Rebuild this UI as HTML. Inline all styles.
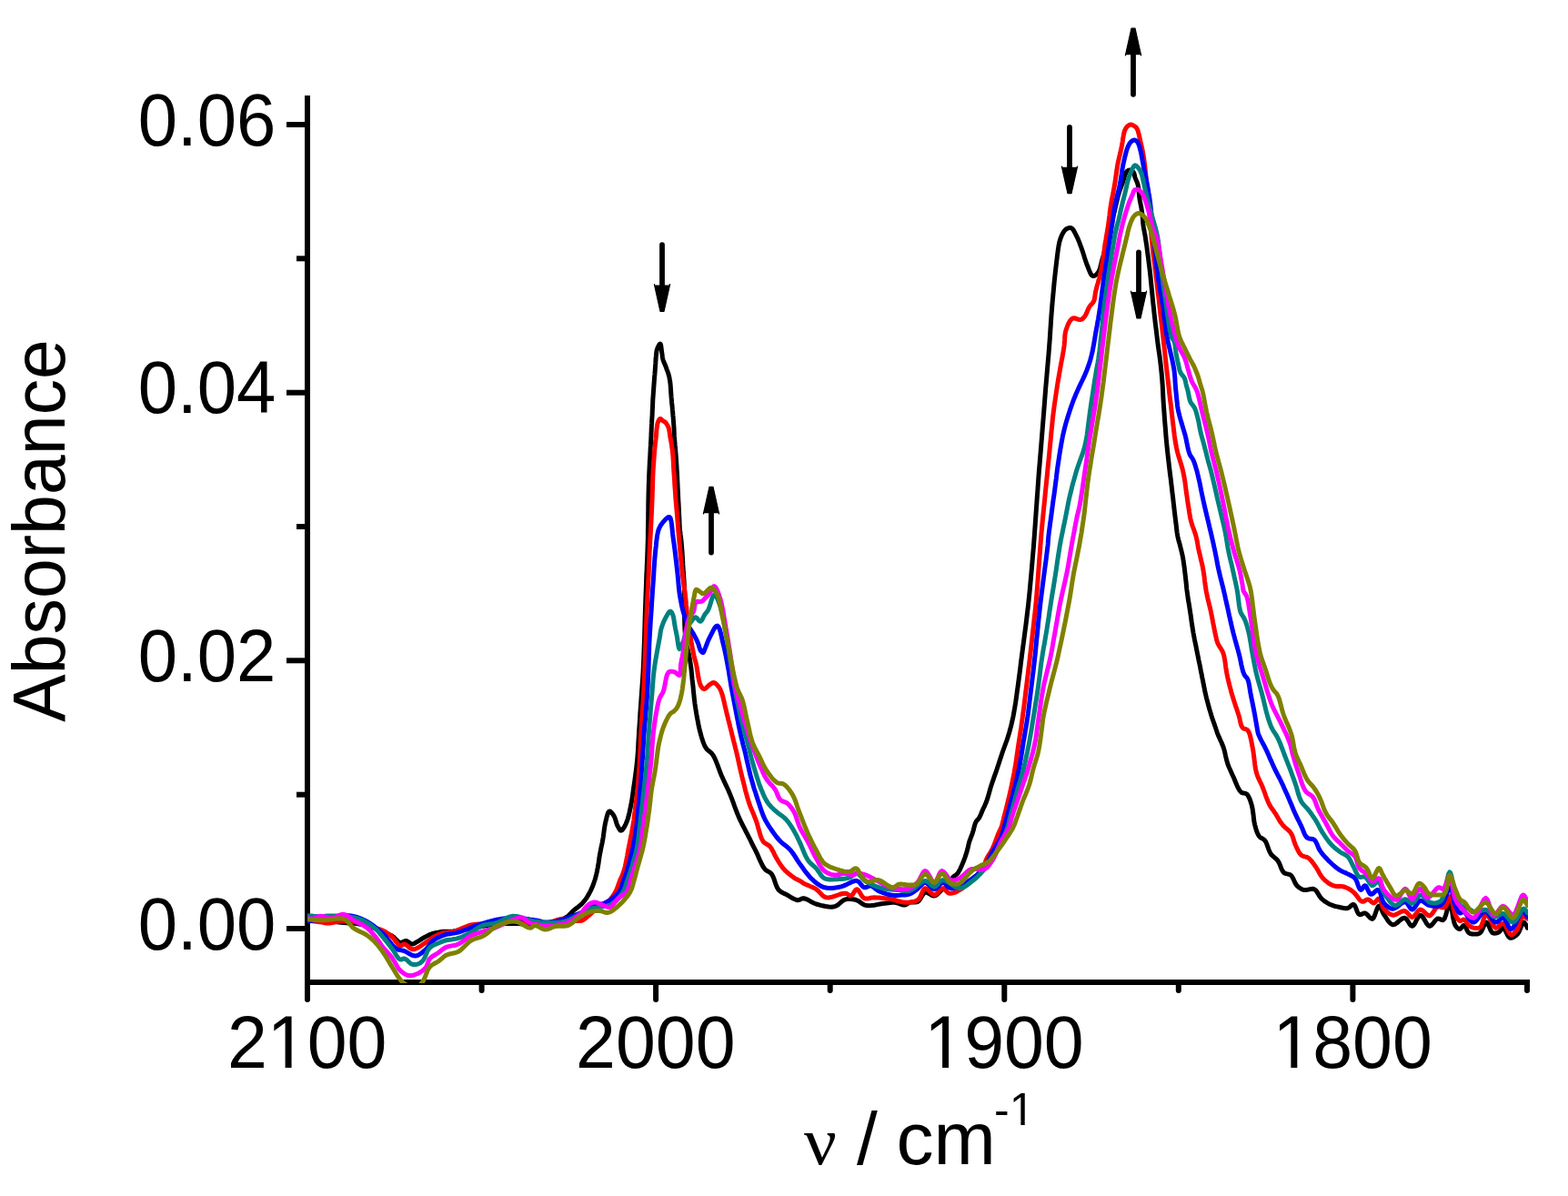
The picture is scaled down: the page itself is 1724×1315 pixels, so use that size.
<!DOCTYPE html>
<html><head><meta charset="utf-8"><title>Absorbance spectrum</title>
<style>
html,body{margin:0;padding:0;background:#fff;}
body{width:1724px;height:1315px;overflow:hidden;}
svg{display:block;}
.lbl{font-family:"Liberation Sans",Arial,sans-serif;font-size:80px;fill:#000;}
</style></head>
<body>
<svg width="1724" height="1315" viewBox="0 0 1724 1315">
<rect width="1724" height="1315" fill="#fff"/>
<defs><clipPath id="plot"><rect x="338" y="100" width="1342" height="981"/></clipPath></defs>
<g stroke="#000" stroke-width="6" fill="none" stroke-linecap="butt">
<line x1="338" y1="105" x2="338" y2="1083"/>
<line x1="335" y1="1080" x2="1682" y2="1080"/>
<line x1="315.0" y1="1021.0" x2="336.0" y2="1021.0"/>
<line x1="326.0" y1="873.7" x2="336.0" y2="873.7"/>
<line x1="315.0" y1="726.3" x2="336.0" y2="726.3"/>
<line x1="326.0" y1="579.0" x2="336.0" y2="579.0"/>
<line x1="315.0" y1="431.7" x2="336.0" y2="431.7"/>
<line x1="326.0" y1="284.3" x2="336.0" y2="284.3"/>
<line x1="315.0" y1="137.0" x2="336.0" y2="137.0"/>
<line x1="338.0" y1="1082" x2="338.0" y2="1099.0" stroke-linecap="round"/>
<line x1="529.6" y1="1082" x2="529.6" y2="1089.0" stroke-linecap="round"/>
<line x1="721.1" y1="1082" x2="721.1" y2="1099.0" stroke-linecap="round"/>
<line x1="912.7" y1="1082" x2="912.7" y2="1089.0" stroke-linecap="round"/>
<line x1="1104.3" y1="1082" x2="1104.3" y2="1099.0" stroke-linecap="round"/>
<line x1="1295.8" y1="1082" x2="1295.8" y2="1089.0" stroke-linecap="round"/>
<line x1="1487.4" y1="1082" x2="1487.4" y2="1099.0" stroke-linecap="round"/>
<line x1="1679.0" y1="1082" x2="1679.0" y2="1089.0" stroke-linecap="round"/>
</g>
<g clip-path="url(#plot)" fill="none" stroke-width="5.0" stroke-linejoin="round" stroke-linecap="round">
<path d="M338.0 1011.0 L339.1 1011.1 L342.2 1011.2 L346.4 1011.5 L351.2 1011.8 L356.0 1012.2 L360.0 1012.5 L363.1 1012.8 L366.2 1013.2 L369.1 1013.5 L372.1 1013.9 L375.0 1014.3 L378.0 1014.6 L380.9 1014.8 L383.7 1015.0 L386.5 1015.1 L389.4 1015.3 L392.2 1015.6 L395.0 1016.0 L397.9 1016.6 L400.9 1017.2 L403.8 1018.0 L406.7 1018.9 L409.5 1019.7 L412.0 1020.6 L413.8 1021.3 L415.4 1022.0 L416.9 1022.8 L418.4 1023.5 L419.9 1024.3 L421.5 1025.0 L423.1 1025.7 L424.7 1026.3 L426.3 1026.8 L427.9 1027.5 L429.5 1028.2 L431.0 1029.0 L432.6 1030.2 L434.1 1031.6 L435.6 1033.2 L437.1 1034.6 L438.5 1035.8 L440.0 1036.4 L441.1 1036.4 L442.2 1036.1 L443.3 1035.5 L444.4 1035.0 L445.5 1034.6 L446.6 1034.5 L447.7 1034.8 L448.8 1035.5 L449.8 1036.3 L450.9 1037.1 L452.0 1037.7 L453.0 1038.0 L453.9 1037.9 L454.9 1037.6 L455.8 1037.2 L456.7 1036.6 L457.6 1036.0 L458.6 1035.5 L459.8 1034.8 L461.0 1034.1 L462.2 1033.3 L463.5 1032.5 L464.7 1031.7 L466.0 1031.0 L467.3 1030.3 L468.6 1029.6 L469.8 1028.9 L471.2 1028.2 L472.5 1027.6 L474.0 1027.0 L475.8 1026.4 L477.8 1025.9 L479.8 1025.5 L481.9 1025.1 L484.0 1024.8 L486.0 1024.5 L488.0 1024.3 L489.9 1024.3 L491.8 1024.2 L493.7 1024.2 L495.8 1024.2 L498.0 1024.0 L501.3 1023.6 L504.8 1023.1 L508.5 1022.5 L512.3 1021.8 L516.2 1021.2 L520.0 1020.5 L524.1 1019.7 L528.3 1018.9 L532.5 1018.0 L536.7 1017.2 L540.9 1016.5 L545.0 1016.0 L548.8 1015.7 L552.6 1015.5 L556.3 1015.4 L560.0 1015.4 L563.6 1015.4 L567.0 1015.5 L569.8 1015.6 L572.5 1015.8 L575.1 1015.9 L577.7 1016.2 L580.3 1016.3 L583.0 1016.5 L585.9 1016.7 L588.8 1016.9 L591.7 1017.1 L594.6 1017.2 L597.4 1017.2 L600.0 1017.0 L601.9 1016.7 L603.7 1016.3 L605.4 1015.8 L607.1 1015.3 L608.8 1014.7 L610.6 1014.0 L612.7 1013.2 L614.9 1012.4 L617.1 1011.4 L619.3 1010.4 L621.3 1009.3 L623.2 1008.2 L624.6 1007.1 L625.9 1006.0 L627.0 1004.8 L628.2 1003.6 L629.3 1002.4 L630.6 1001.2 L632.1 999.9 L633.8 998.6 L635.4 997.4 L637.1 996.1 L638.7 994.7 L640.2 993.2 L641.6 991.6 L643.0 989.9 L644.3 988.1 L645.5 986.3 L646.6 984.4 L647.7 982.6 L648.6 980.9 L649.5 979.1 L650.3 977.4 L651.1 975.6 L651.8 973.8 L652.5 972.0 L653.1 970.2 L653.7 968.5 L654.3 966.7 L654.8 964.9 L655.2 963.1 L655.7 961.3 L656.1 959.5 L656.5 957.7 L656.8 956.0 L657.2 954.2 L657.5 952.4 L657.8 950.6 L658.1 948.9 L658.3 947.1 L658.6 945.4 L658.8 943.7 L659.1 941.9 L659.4 940.0 L659.9 937.5 L660.4 935.0 L660.9 932.3 L661.5 929.6 L662.1 926.8 L662.6 924.0 L663.2 920.6 L663.7 917.0 L664.2 913.2 L664.7 909.6 L665.3 906.1 L666.0 903.0 L666.6 900.7 L667.1 898.3 L667.8 896.0 L668.4 894.1 L669.2 892.7 L670.0 892.0 L670.8 892.1 L671.6 892.7 L672.5 893.6 L673.4 894.7 L674.2 895.8 L675.0 897.0 L675.8 898.6 L676.5 900.5 L677.1 902.5 L677.7 904.5 L678.3 906.4 L679.0 908.0 L679.6 909.1 L680.2 910.3 L680.8 911.4 L681.5 912.3 L682.1 913.0 L682.8 913.2 L683.7 912.9 L684.6 912.0 L685.5 910.7 L686.5 909.1 L687.4 907.5 L688.2 905.8 L689.2 903.3 L690.2 900.5 L691.0 897.5 L691.8 894.3 L692.5 891.1 L693.2 887.9 L693.9 884.6 L694.5 881.3 L695.0 878.0 L695.5 874.6 L696.0 871.1 L696.5 867.4 L697.2 862.7 L697.9 857.8 L698.6 852.6 L699.3 847.4 L699.9 842.2 L700.5 836.9 L701.0 831.3 L701.4 825.7 L701.7 819.9 L702.0 814.2 L702.4 808.4 L702.7 802.7 L703.1 797.0 L703.5 791.3 L703.8 785.5 L704.2 779.8 L704.6 774.1 L705.0 768.4 L705.4 762.8 L705.8 757.4 L706.2 751.9 L706.6 746.3 L707.0 740.5 L707.3 734.2 L707.7 724.8 L708.1 714.4 L708.5 703.5 L708.8 692.5 L709.1 682.1 L709.4 672.7 L709.6 666.4 L709.8 660.5 L710.0 654.9 L710.2 649.5 L710.4 644.0 L710.6 638.4 L710.8 632.7 L711.1 626.9 L711.3 621.1 L711.6 615.4 L711.8 609.7 L712.0 604.2 L712.1 599.2 L712.3 594.3 L712.4 589.5 L712.4 584.7 L712.5 579.9 L712.6 575.0 L712.7 570.0 L712.7 565.0 L712.8 560.0 L712.8 555.0 L712.9 550.1 L713.0 545.3 L713.1 541.0 L713.2 536.8 L713.3 532.6 L713.5 528.5 L713.6 524.4 L713.8 520.2 L714.0 515.9 L714.2 511.6 L714.4 507.3 L714.7 503.0 L714.9 498.9 L715.1 495.1 L715.2 492.3 L715.4 489.7 L715.5 487.1 L715.7 484.6 L715.8 482.3 L715.9 480.0 L716.0 478.3 L716.0 476.7 L716.1 475.2 L716.2 473.7 L716.2 472.1 L716.3 470.4 L716.4 467.9 L716.6 465.2 L716.7 462.3 L716.9 459.4 L717.1 456.5 L717.2 453.7 L717.3 450.9 L717.5 448.1 L717.6 445.3 L717.7 442.5 L717.8 439.7 L718.0 436.9 L718.2 434.1 L718.4 431.3 L718.6 428.5 L718.8 425.8 L719.0 423.0 L719.2 420.2 L719.4 417.4 L719.6 414.5 L719.9 411.7 L720.1 408.8 L720.3 406.1 L720.5 403.5 L720.6 401.4 L720.8 399.4 L720.9 397.5 L721.0 395.6 L721.1 393.8 L721.3 392.0 L721.4 390.6 L721.6 389.2 L721.7 387.8 L721.9 386.5 L722.1 385.2 L722.5 384.0 L723.0 382.8 L723.5 381.4 L724.2 380.1 L724.8 379.0 L725.4 378.2 L725.9 378.0 L726.3 378.5 L726.7 379.7 L726.9 381.3 L727.1 383.2 L727.4 385.1 L727.6 386.7 L727.8 388.1 L728.0 389.5 L728.2 390.9 L728.3 392.3 L728.6 393.7 L728.9 395.1 L729.3 396.5 L729.9 397.9 L730.4 399.3 L731.1 400.7 L731.6 402.1 L732.2 403.5 L732.7 404.9 L733.2 406.3 L733.7 407.6 L734.2 409.0 L734.7 410.4 L735.1 411.8 L735.5 413.2 L735.8 414.5 L736.1 415.8 L736.3 417.2 L736.6 418.6 L736.8 420.2 L737.1 422.6 L737.3 425.3 L737.5 428.2 L737.7 431.1 L737.9 434.0 L738.1 436.9 L738.4 439.7 L738.6 442.5 L738.9 445.3 L739.2 448.1 L739.4 450.9 L739.7 453.7 L739.9 456.5 L740.2 459.4 L740.4 462.3 L740.6 465.2 L740.8 467.9 L741.0 470.4 L741.1 472.1 L741.1 473.7 L741.2 475.2 L741.2 476.7 L741.3 478.3 L741.4 480.0 L741.6 482.3 L741.8 484.6 L742.0 487.1 L742.2 489.7 L742.5 492.3 L742.7 495.1 L743.0 498.9 L743.3 503.0 L743.6 507.3 L743.9 511.6 L744.1 515.9 L744.4 520.2 L744.6 524.4 L744.8 528.6 L745.0 532.7 L745.2 536.9 L745.4 541.1 L745.6 545.3 L745.8 549.6 L746.1 554.1 L746.3 558.6 L746.5 562.9 L746.7 566.9 L746.9 570.4 L747.0 572.2 L747.0 573.8 L747.1 575.3 L747.1 576.8 L747.2 578.3 L747.3 580.0 L747.5 582.6 L747.9 585.3 L748.2 588.1 L748.6 591.1 L749.0 594.2 L749.3 597.4 L749.6 601.7 L750.0 606.2 L750.3 611.0 L750.6 615.7 L750.8 620.4 L751.1 624.8 L751.3 628.3 L751.6 631.8 L751.8 635.1 L752.1 638.4 L752.2 641.7 L752.4 645.0 L752.5 648.3 L752.5 651.6 L752.6 654.9 L752.6 658.2 L752.6 661.6 L752.6 665.0 L752.6 668.8 L752.6 672.7 L752.6 676.6 L752.6 680.5 L752.7 684.4 L752.8 688.0 L752.9 691.0 L753.1 693.9 L753.3 696.7 L753.5 699.5 L753.8 702.3 L754.2 705.0 L754.7 707.6 L755.2 710.1 L755.8 712.7 L756.4 715.2 L757.0 717.6 L757.5 720.0 L757.9 722.0 L758.2 724.0 L758.6 725.9 L758.9 727.9 L759.2 729.9 L759.5 732.0 L759.9 734.8 L760.2 737.7 L760.5 740.8 L760.8 743.9 L761.1 747.1 L761.5 750.5 L762.0 754.8 L762.4 759.4 L762.9 764.1 L763.4 768.9 L764.0 773.8 L764.7 778.5 L765.5 783.4 L766.3 788.3 L767.3 793.3 L768.2 798.2 L769.3 802.8 L770.4 807.0 L771.2 809.9 L772.1 812.7 L772.9 815.4 L773.9 817.9 L774.9 820.2 L776.1 822.3 L777.2 823.8 L778.5 825.0 L779.8 826.0 L781.2 827.2 L782.5 828.4 L783.8 830.0 L785.5 833.0 L787.1 836.6 L788.7 840.6 L790.2 844.7 L791.7 848.8 L793.3 852.7 L794.9 856.2 L796.5 859.7 L798.1 863.1 L799.7 866.5 L801.3 870.0 L802.8 873.6 L804.4 877.6 L806.0 881.8 L807.5 886.1 L809.1 890.3 L810.7 894.5 L812.3 898.4 L813.8 901.7 L815.4 905.0 L817.0 908.1 L818.6 911.2 L820.2 914.3 L821.8 917.4 L823.4 920.6 L825.0 923.7 L826.5 926.9 L828.1 930.1 L829.7 933.2 L831.3 936.4 L832.9 939.7 L834.4 943.2 L835.9 946.7 L837.5 950.0 L839.1 953.0 L840.8 955.4 L842.0 956.6 L843.3 957.5 L844.7 958.2 L846.0 958.9 L847.2 959.8 L848.4 961.0 L849.8 963.4 L851.0 966.4 L852.1 969.7 L853.2 973.0 L854.5 975.9 L856.0 978.3 L857.4 979.6 L858.9 980.7 L860.5 981.6 L862.1 982.4 L863.8 983.1 L865.5 984.0 L867.4 985.1 L869.3 986.3 L871.3 987.5 L873.3 988.5 L875.2 989.3 L877.0 989.7 L878.2 989.6 L879.3 989.2 L880.3 988.7 L881.4 988.2 L882.5 987.8 L883.7 987.7 L885.7 988.2 L887.8 989.1 L890.1 990.4 L892.4 991.8 L894.9 993.0 L897.4 994.0 L900.6 994.9 L904.0 995.8 L907.6 996.5 L911.1 997.0 L914.5 997.2 L917.5 996.8 L919.7 995.9 L921.7 994.6 L923.6 992.9 L925.4 991.3 L927.3 989.9 L929.3 989.0 L931.2 988.6 L933.2 988.4 L935.3 988.5 L937.3 988.7 L939.3 989.0 L941.2 989.5 L943.0 990.3 L944.8 991.3 L946.5 992.6 L948.2 993.8 L950.1 994.8 L952.1 995.5 L954.9 995.8 L957.9 995.6 L961.1 995.2 L964.3 994.6 L967.5 994.0 L970.4 993.6 L972.7 993.3 L974.9 993.0 L977.0 992.7 L979.1 992.4 L981.1 992.3 L983.2 992.3 L985.3 992.6 L987.4 993.2 L989.5 993.9 L991.5 994.5 L993.3 995.0 L995.0 995.0 L996.0 994.7 L996.8 994.3 L997.5 993.8 L998.3 993.2 L999.1 992.7 L1000.0 992.3 L1001.4 992.1 L1002.9 992.0 L1004.5 992.1 L1006.1 992.0 L1007.7 991.8 L1009.1 991.3 L1010.6 990.0 L1011.9 988.1 L1013.2 986.0 L1014.4 983.9 L1015.8 982.2 L1017.3 981.3 L1018.9 981.3 L1020.5 982.0 L1022.3 983.0 L1024.0 984.1 L1025.8 984.8 L1027.4 985.0 L1029.0 984.4 L1030.6 983.3 L1032.1 981.8 L1033.6 980.2 L1035.0 978.8 L1036.5 977.7 L1037.6 977.2 L1038.8 976.8 L1039.9 976.5 L1041.0 976.2 L1042.1 975.7 L1043.0 975.0 L1044.0 973.7 L1044.7 972.0 L1045.3 970.1 L1046.0 968.2 L1046.7 966.4 L1047.5 964.9 L1048.3 964.0 L1049.2 963.3 L1050.2 962.6 L1051.1 962.0 L1052.0 961.2 L1052.9 960.3 L1053.9 958.8 L1054.9 957.1 L1055.8 955.3 L1056.7 953.3 L1057.6 951.3 L1058.4 949.4 L1059.3 947.3 L1060.1 945.2 L1060.9 943.0 L1061.6 940.9 L1062.3 938.7 L1063.0 936.6 L1063.5 934.7 L1064.0 932.9 L1064.4 931.0 L1064.8 929.2 L1065.2 927.4 L1065.7 925.6 L1066.3 923.9 L1066.9 922.3 L1067.5 920.6 L1068.2 919.0 L1068.8 917.3 L1069.4 915.6 L1070.0 913.6 L1070.6 911.5 L1071.1 909.3 L1071.7 907.2 L1072.3 905.3 L1073.0 903.7 L1073.5 902.9 L1074.1 902.2 L1074.7 901.6 L1075.3 900.9 L1075.8 900.3 L1076.4 899.5 L1077.1 898.2 L1077.8 896.8 L1078.5 895.2 L1079.2 893.6 L1079.8 892.0 L1080.5 890.4 L1081.2 888.9 L1081.9 887.5 L1082.6 886.1 L1083.2 884.6 L1083.9 883.0 L1084.6 881.3 L1085.5 878.6 L1086.4 875.7 L1087.3 872.6 L1088.2 869.3 L1089.1 866.1 L1090.1 863.0 L1091.1 860.0 L1092.2 856.9 L1093.2 853.9 L1094.3 850.9 L1095.4 847.8 L1096.4 844.8 L1097.4 841.8 L1098.4 838.7 L1099.4 835.6 L1100.4 832.6 L1101.4 829.5 L1102.4 826.5 L1103.5 823.5 L1104.6 820.5 L1105.7 817.5 L1106.8 814.5 L1107.8 811.4 L1108.8 808.3 L1109.8 805.0 L1110.7 801.7 L1111.6 798.4 L1112.4 795.0 L1113.2 791.4 L1114.0 787.7 L1114.9 782.8 L1115.8 777.6 L1116.7 772.2 L1117.5 766.6 L1118.2 761.1 L1119.0 755.7 L1119.7 750.4 L1120.4 745.1 L1121.1 739.8 L1121.8 734.4 L1122.4 729.1 L1123.1 723.8 L1123.8 718.5 L1124.5 713.2 L1125.2 707.9 L1125.9 702.5 L1126.6 697.2 L1127.3 691.9 L1128.0 686.7 L1128.6 681.6 L1129.2 676.6 L1129.8 671.4 L1130.5 665.9 L1131.1 660.0 L1132.0 651.2 L1132.9 641.6 L1133.8 631.6 L1134.7 621.2 L1135.6 610.6 L1136.5 600.0 L1137.4 587.9 L1138.3 575.3 L1139.2 562.4 L1140.1 549.6 L1141.0 537.4 L1141.8 526.0 L1142.4 517.8 L1143.1 510.0 L1143.7 502.5 L1144.3 495.2 L1144.9 487.9 L1145.5 480.4 L1146.1 472.8 L1146.7 465.4 L1147.3 457.9 L1147.9 450.3 L1148.5 442.6 L1149.1 434.8 L1149.8 425.9 L1150.6 416.7 L1151.4 407.4 L1152.2 398.1 L1153.0 388.9 L1153.7 380.0 L1154.3 372.0 L1154.8 364.2 L1155.3 356.5 L1155.8 348.9 L1156.4 341.3 L1157.0 333.7 L1157.7 326.1 L1158.4 318.4 L1159.1 310.7 L1159.9 303.2 L1160.7 296.0 L1161.5 289.3 L1162.1 284.3 L1162.7 279.4 L1163.3 274.7 L1164.0 270.3 L1164.8 266.2 L1165.9 262.6 L1166.7 260.4 L1167.6 258.3 L1168.6 256.4 L1169.6 254.7 L1170.7 253.3 L1171.9 252.2 L1172.8 251.6 L1173.8 251.1 L1174.8 250.7 L1175.9 250.5 L1176.9 250.5 L1177.8 250.7 L1178.9 251.4 L1180.0 252.6 L1180.9 254.2 L1181.9 256.0 L1182.8 257.8 L1183.7 259.6 L1184.8 261.8 L1185.8 264.2 L1186.8 266.6 L1187.7 269.2 L1188.7 271.8 L1189.6 274.4 L1190.6 277.3 L1191.6 280.4 L1192.5 283.5 L1193.5 286.5 L1194.5 289.5 L1195.6 292.2 L1196.5 294.5 L1197.4 296.9 L1198.4 299.2 L1199.3 301.2 L1200.4 302.7 L1201.5 303.5 L1202.4 303.5 L1203.5 303.2 L1204.5 302.5 L1205.6 301.7 L1206.5 300.7 L1207.4 299.6 L1208.4 297.8 L1209.3 295.6 L1210.0 293.2 L1210.6 290.5 L1211.3 287.7 L1212.0 285.0 L1213.0 281.6 L1214.0 278.1 L1215.0 274.4 L1216.0 270.6 L1217.0 266.8 L1218.0 263.0 L1219.0 258.9 L1220.0 254.8 L1221.0 250.6 L1222.0 246.4 L1223.0 242.2 L1224.0 238.0 L1225.0 233.7 L1226.0 229.4 L1227.0 225.0 L1228.0 220.8 L1229.0 216.7 L1230.0 213.0 L1230.8 210.4 L1231.7 207.9 L1232.5 205.6 L1233.4 203.3 L1234.2 201.1 L1235.0 199.0 L1235.6 197.1 L1236.1 195.2 L1236.6 193.4 L1237.2 191.7 L1237.8 190.2 L1238.5 189.0 L1239.0 188.4 L1239.6 188.0 L1240.2 187.6 L1240.8 187.3 L1241.4 187.1 L1242.0 187.0 L1242.7 187.1 L1243.4 187.2 L1244.1 187.6 L1244.8 188.0 L1245.5 188.5 L1246.0 189.0 L1246.5 189.8 L1246.9 190.7 L1247.2 191.8 L1247.4 192.9 L1247.7 194.1 L1248.0 195.2 L1248.5 196.4 L1249.0 197.6 L1249.5 198.8 L1250.1 200.0 L1250.6 201.4 L1251.0 202.8 L1251.5 205.0 L1251.8 207.5 L1252.1 210.1 L1252.3 212.7 L1252.6 215.4 L1252.9 218.0 L1253.3 220.5 L1253.8 223.1 L1254.3 225.6 L1254.8 228.1 L1255.2 230.7 L1255.6 233.2 L1255.9 235.8 L1256.2 238.3 L1256.4 240.9 L1256.6 243.5 L1256.8 246.0 L1257.1 248.4 L1257.4 250.4 L1257.7 252.1 L1258.1 253.9 L1258.4 255.7 L1258.8 257.7 L1259.2 260.0 L1259.9 264.9 L1260.8 270.7 L1261.6 277.0 L1262.5 283.6 L1263.3 290.2 L1264.1 296.5 L1264.8 302.6 L1265.4 308.7 L1266.0 314.7 L1266.6 320.8 L1267.2 326.9 L1267.8 333.0 L1268.5 339.1 L1269.1 345.1 L1269.8 351.1 L1270.5 357.2 L1271.3 363.3 L1272.0 369.5 L1272.8 376.1 L1273.7 382.8 L1274.7 389.6 L1275.6 396.4 L1276.4 403.2 L1277.1 410.0 L1277.7 416.8 L1278.2 423.7 L1278.6 430.5 L1278.9 437.4 L1279.3 444.2 L1279.8 451.1 L1280.3 458.0 L1280.8 464.8 L1281.4 471.7 L1281.9 478.5 L1282.5 485.4 L1283.2 492.2 L1283.9 499.1 L1284.7 505.9 L1285.5 512.8 L1286.3 519.6 L1287.2 526.5 L1288.0 533.3 L1288.8 540.4 L1289.7 547.7 L1290.5 555.1 L1291.3 562.1 L1292.1 568.7 L1292.8 574.4 L1293.2 577.5 L1293.5 580.3 L1293.8 582.9 L1294.1 585.3 L1294.5 587.7 L1294.9 590.0 L1295.3 591.8 L1295.7 593.5 L1296.1 595.1 L1296.6 596.7 L1297.1 598.3 L1297.5 600.0 L1298.0 602.0 L1298.5 604.0 L1299.0 606.0 L1299.5 608.1 L1300.0 610.3 L1300.5 612.7 L1301.1 616.4 L1301.7 620.5 L1302.3 624.9 L1302.8 629.2 L1303.3 633.4 L1303.7 637.1 L1304.0 639.4 L1304.2 641.6 L1304.4 643.6 L1304.6 645.6 L1304.8 647.7 L1305.1 650.0 L1305.6 653.4 L1306.1 657.1 L1306.7 661.0 L1307.4 665.0 L1308.0 668.9 L1308.6 672.8 L1309.2 676.6 L1309.7 680.4 L1310.2 684.2 L1310.8 688.0 L1311.4 691.8 L1312.0 695.6 L1312.7 699.4 L1313.4 703.2 L1314.2 707.0 L1315.0 710.8 L1315.7 714.6 L1316.5 718.4 L1317.3 722.2 L1318.0 726.0 L1318.8 729.8 L1319.6 733.6 L1320.3 737.4 L1321.1 741.2 L1321.8 745.0 L1322.6 748.8 L1323.3 752.6 L1324.1 756.4 L1324.8 760.2 L1325.7 764.0 L1326.6 767.9 L1327.7 771.8 L1328.7 775.8 L1329.8 779.7 L1330.9 783.4 L1331.9 786.8 L1332.7 789.3 L1333.5 791.6 L1334.3 793.9 L1335.1 796.0 L1335.8 798.1 L1336.5 800.0 L1336.9 801.3 L1337.3 802.5 L1337.7 803.6 L1338.0 804.7 L1338.4 805.9 L1338.9 807.2 L1339.8 809.4 L1340.9 811.7 L1342.0 814.2 L1343.2 816.8 L1344.3 819.5 L1345.3 822.1 L1346.1 824.9 L1346.8 827.7 L1347.4 830.6 L1348.1 833.5 L1348.8 836.3 L1349.6 839.1 L1350.5 841.7 L1351.5 844.1 L1352.6 846.6 L1353.7 849.0 L1354.8 851.5 L1356.0 854.0 L1357.3 857.0 L1358.6 860.2 L1360.0 863.5 L1361.4 866.5 L1362.9 869.1 L1364.5 871.0 L1365.5 871.6 L1366.6 872.0 L1367.8 872.1 L1368.9 872.3 L1369.9 872.6 L1370.9 873.2 L1372.1 874.6 L1373.1 876.5 L1374.1 878.6 L1374.9 881.0 L1375.7 883.4 L1376.4 885.9 L1377.1 889.1 L1377.6 892.6 L1378.1 896.2 L1378.5 899.9 L1378.9 903.4 L1379.6 906.6 L1380.2 909.0 L1380.9 911.4 L1381.6 913.7 L1382.4 915.8 L1383.3 917.7 L1384.4 919.4 L1385.3 920.4 L1386.4 921.2 L1387.6 921.8 L1388.7 922.4 L1389.8 923.2 L1390.8 924.2 L1392.0 926.1 L1393.0 928.5 L1393.9 931.2 L1394.9 933.9 L1395.9 936.4 L1397.1 938.6 L1398.3 940.1 L1399.7 941.4 L1401.1 942.6 L1402.5 943.8 L1403.9 945.1 L1405.1 946.6 L1406.3 948.6 L1407.3 950.9 L1408.2 953.3 L1409.1 955.6 L1410.2 957.7 L1411.5 959.3 L1412.7 960.1 L1414.1 960.6 L1415.5 960.9 L1416.9 961.3 L1418.3 961.7 L1419.5 962.5 L1420.7 964.0 L1421.8 965.9 L1422.7 968.0 L1423.7 970.1 L1424.7 972.1 L1425.9 973.7 L1427.1 974.8 L1428.3 975.8 L1429.6 976.7 L1431.0 977.5 L1432.4 978.1 L1433.9 978.5 L1435.6 978.6 L1437.5 978.3 L1439.5 977.9 L1441.5 977.5 L1443.3 977.3 L1445.0 977.7 L1446.6 978.8 L1447.9 980.4 L1449.1 982.4 L1450.3 984.5 L1451.6 986.4 L1453.0 988.1 L1454.5 989.4 L1456.0 990.6 L1457.6 991.7 L1459.2 992.7 L1460.9 993.7 L1462.6 994.5 L1464.4 995.2 L1466.3 995.9 L1468.2 996.5 L1470.1 996.9 L1472.0 997.3 L1473.8 997.7 L1475.2 998.0 L1476.6 998.3 L1478.0 998.5 L1479.3 998.7 L1480.6 998.7 L1481.8 998.5 L1483.0 998.0 L1484.1 997.1 L1485.2 996.1 L1486.2 995.2 L1487.2 994.6 L1488.2 994.5 L1489.4 995.5 L1490.4 997.4 L1491.4 999.9 L1492.3 1002.4 L1493.4 1004.4 L1494.6 1005.6 L1495.6 1005.7 L1496.6 1005.4 L1497.7 1004.9 L1498.7 1004.4 L1499.8 1004.0 L1500.9 1004.0 L1502.3 1004.7 L1503.6 1006.0 L1505.0 1007.6 L1506.4 1009.1 L1507.7 1010.1 L1508.9 1010.4 L1510.3 1009.1 L1511.5 1006.4 L1512.7 1003.0 L1513.9 999.7 L1515.0 997.1 L1516.1 996.1 L1517.0 996.6 L1517.9 997.8 L1518.8 999.6 L1519.7 1001.7 L1520.6 1003.8 L1521.7 1005.6 L1523.1 1007.7 L1524.6 1010.0 L1526.1 1012.4 L1527.8 1014.4 L1529.6 1016.0 L1531.4 1016.8 L1533.4 1016.4 L1535.6 1015.0 L1537.9 1013.0 L1540.2 1011.1 L1542.3 1009.6 L1544.3 1009.2 L1545.9 1010.1 L1547.3 1011.8 L1548.7 1014.0 L1550.0 1016.1 L1551.3 1017.7 L1552.7 1018.3 L1554.2 1017.4 L1555.7 1015.1 L1557.2 1012.2 L1558.7 1009.3 L1560.2 1007.1 L1561.8 1006.2 L1563.4 1007.1 L1565.0 1009.3 L1566.7 1012.1 L1568.3 1015.0 L1570.0 1017.3 L1571.7 1018.3 L1573.2 1017.8 L1574.7 1016.4 L1576.3 1014.5 L1577.8 1012.5 L1579.3 1010.9 L1580.8 1010.0 L1581.9 1010.0 L1582.9 1010.4 L1584.0 1010.9 L1585.0 1011.4 L1586.0 1011.7 L1586.9 1011.5 L1588.4 1009.6 L1589.7 1006.0 L1590.9 1001.7 L1592.0 997.5 L1593.1 994.4 L1594.1 993.2 L1595.1 994.7 L1596.0 998.4 L1596.8 1003.4 L1597.6 1008.8 L1598.6 1013.6 L1599.8 1017.0 L1600.6 1018.2 L1601.4 1019.3 L1602.2 1020.2 L1603.1 1020.9 L1604.0 1021.4 L1604.8 1021.6 L1605.6 1021.3 L1606.4 1020.5 L1607.2 1019.5 L1608.0 1018.5 L1608.8 1017.7 L1609.6 1017.5 L1610.5 1018.1 L1611.4 1019.4 L1612.3 1021.1 L1613.1 1023.0 L1614.1 1024.6 L1615.1 1025.7 L1615.9 1026.2 L1616.8 1026.6 L1617.7 1026.8 L1618.6 1027.0 L1619.5 1027.1 L1620.5 1027.1 L1621.6 1027.1 L1622.8 1027.1 L1624.0 1027.0 L1625.2 1026.7 L1626.3 1026.3 L1627.4 1025.7 L1628.7 1024.1 L1629.9 1021.8 L1631.0 1019.2 L1632.0 1016.7 L1633.1 1014.8 L1634.2 1014.1 L1635.3 1014.9 L1636.4 1016.8 L1637.5 1019.4 L1638.6 1022.1 L1639.8 1024.3 L1641.1 1025.7 L1642.2 1026.1 L1643.3 1026.2 L1644.5 1026.1 L1645.7 1025.8 L1646.9 1025.4 L1647.9 1025.0 L1648.8 1024.3 L1649.6 1023.3 L1650.4 1022.2 L1651.1 1021.2 L1651.9 1020.4 L1652.7 1020.2 L1653.9 1021.0 L1655.0 1023.0 L1656.2 1025.5 L1657.5 1028.1 L1658.8 1030.1 L1660.2 1031.2 L1661.5 1031.3 L1662.9 1030.9 L1664.3 1030.2 L1665.8 1029.3 L1667.2 1028.2 L1668.4 1027.1 L1669.8 1025.1 L1671.0 1022.5 L1672.2 1019.6 L1673.2 1016.9 L1674.3 1014.9 L1675.3 1014.1 L1676.1 1014.5 L1677.0 1015.6 L1677.9 1017.1 L1678.7 1018.6 L1679.2 1019.7 L1679.4 1020.2" stroke="#000000"/>
<path d="M338.0 1012.0 L338.6 1012.1 L340.2 1012.3 L342.5 1012.6 L345.2 1012.9 L347.8 1013.2 L350.0 1013.5 L351.8 1013.8 L353.7 1014.1 L355.4 1014.4 L357.3 1014.7 L359.1 1014.9 L361.0 1015.0 L363.2 1014.9 L365.5 1014.5 L367.8 1014.1 L370.1 1013.6 L372.5 1013.2 L375.0 1013.0 L377.9 1012.9 L381.0 1013.0 L384.1 1013.1 L387.2 1013.3 L390.2 1013.6 L393.0 1014.0 L395.2 1014.4 L397.3 1014.8 L399.3 1015.3 L401.2 1015.8 L403.1 1016.4 L405.0 1017.0 L406.6 1017.6 L408.1 1018.2 L409.6 1018.8 L411.1 1019.4 L412.6 1020.0 L414.0 1020.6 L415.3 1021.1 L416.5 1021.5 L417.8 1021.9 L419.0 1022.3 L420.2 1022.8 L421.5 1023.4 L423.1 1024.3 L424.7 1025.2 L426.3 1026.3 L427.9 1027.5 L429.5 1028.7 L431.0 1030.0 L432.6 1031.7 L434.2 1033.7 L435.7 1035.8 L437.2 1037.8 L438.6 1039.2 L440.0 1040.0 L440.8 1040.0 L441.6 1039.6 L442.3 1039.1 L443.1 1038.5 L443.8 1038.1 L444.7 1038.0 L446.1 1038.5 L447.5 1039.6 L449.0 1040.9 L450.6 1042.3 L452.3 1043.3 L454.0 1043.8 L456.2 1043.5 L458.6 1042.5 L461.0 1041.1 L463.5 1039.5 L465.8 1037.8 L468.0 1036.4 L469.6 1035.3 L471.2 1034.2 L472.6 1033.1 L474.0 1032.0 L475.5 1030.9 L477.0 1030.0 L478.5 1029.2 L480.1 1028.4 L481.6 1027.7 L483.2 1027.1 L484.8 1026.5 L486.5 1026.0 L488.3 1025.6 L490.1 1025.4 L492.0 1025.3 L493.9 1025.1 L495.9 1024.9 L498.0 1024.5 L501.0 1023.5 L504.3 1022.2 L507.7 1020.7 L511.2 1019.3 L514.6 1018.0 L518.0 1017.0 L521.0 1016.5 L523.9 1016.2 L526.9 1016.1 L529.8 1016.0 L532.9 1015.9 L536.0 1015.7 L539.8 1015.3 L543.8 1014.7 L547.9 1014.2 L552.0 1013.7 L556.1 1013.2 L560.0 1013.0 L563.4 1013.0 L566.8 1013.1 L570.1 1013.3 L573.4 1013.5 L576.7 1013.8 L580.0 1014.0 L583.3 1014.2 L586.7 1014.6 L590.0 1014.9 L593.4 1015.1 L596.7 1015.2 L600.0 1015.0 L603.4 1014.4 L606.8 1013.5 L610.2 1012.3 L613.6 1011.2 L616.9 1010.4 L620.0 1010.0 L622.5 1010.1 L625.1 1010.5 L627.5 1011.1 L629.8 1011.7 L632.0 1012.2 L634.0 1012.5 L635.1 1012.6 L636.2 1012.6 L637.1 1012.6 L638.1 1012.5 L639.0 1012.3 L640.0 1012.0 L641.3 1011.4 L642.6 1010.5 L643.9 1009.5 L645.3 1008.3 L646.6 1007.2 L648.0 1006.0 L649.6 1004.6 L651.3 1003.0 L652.9 1001.4 L654.6 999.8 L656.3 998.3 L658.0 997.0 L659.5 996.0 L661.1 995.1 L662.7 994.2 L664.3 993.4 L665.7 992.7 L666.9 992.0 L667.5 991.7 L668.0 991.4 L668.5 991.1 L669.0 990.8 L669.5 990.5 L670.0 990.0 L671.0 988.9 L672.2 987.5 L673.3 986.0 L674.5 984.3 L675.6 982.5 L676.6 980.8 L677.6 978.9 L678.4 976.9 L679.2 974.8 L680.0 972.7 L680.7 970.6 L681.5 968.5 L682.3 966.5 L683.1 964.7 L684.0 962.8 L684.8 960.8 L685.6 958.8 L686.3 956.5 L687.2 953.0 L688.1 949.1 L688.9 944.9 L689.7 940.6 L690.4 936.3 L691.2 932.2 L692.0 928.2 L692.8 924.2 L693.6 920.2 L694.4 916.3 L695.1 912.4 L695.8 908.5 L696.4 905.0 L696.9 901.5 L697.3 898.1 L697.7 894.7 L698.2 891.3 L698.6 887.9 L699.0 884.5 L699.4 881.2 L699.9 877.9 L700.2 874.5 L700.6 871.1 L701.0 867.4 L701.4 862.7 L701.8 857.7 L702.2 852.6 L702.6 847.4 L703.0 842.2 L703.3 836.9 L703.6 831.3 L703.9 825.6 L704.2 819.9 L704.4 814.2 L704.7 808.4 L705.0 802.7 L705.4 797.1 L705.7 791.6 L706.1 786.2 L706.5 780.6 L706.9 774.7 L707.3 768.4 L707.8 759.0 L708.2 748.6 L708.7 737.6 L709.1 726.7 L709.5 716.3 L709.9 706.9 L710.1 700.6 L710.3 694.8 L710.5 689.2 L710.7 683.7 L710.9 678.3 L711.1 672.7 L711.4 667.0 L711.6 661.3 L711.9 655.5 L712.2 649.8 L712.5 644.1 L712.8 638.4 L713.1 632.7 L713.3 626.9 L713.5 621.1 L713.8 615.4 L714.0 609.7 L714.3 604.2 L714.6 599.2 L714.8 594.3 L715.1 589.5 L715.4 584.7 L715.6 579.9 L715.9 575.0 L716.1 570.0 L716.4 565.0 L716.6 560.0 L716.8 555.0 L717.0 550.1 L717.2 545.3 L717.3 541.0 L717.5 536.8 L717.6 532.6 L717.7 528.5 L717.8 524.4 L718.0 520.2 L718.2 515.9 L718.5 511.6 L718.8 507.3 L719.1 503.0 L719.4 498.9 L719.7 495.1 L720.0 492.3 L720.2 489.7 L720.5 487.1 L720.8 484.6 L721.1 482.3 L721.3 480.0 L721.5 478.3 L721.6 476.6 L721.7 474.9 L721.9 473.4 L722.0 471.9 L722.2 470.4 L722.4 469.2 L722.5 468.1 L722.7 467.0 L722.9 465.9 L723.2 464.9 L723.5 464.0 L723.8 463.2 L724.2 462.5 L724.6 461.7 L725.0 461.1 L725.5 460.6 L725.9 460.4 L726.3 460.5 L726.7 460.7 L727.1 461.2 L727.6 461.6 L728.0 462.1 L728.5 462.5 L729.0 462.8 L729.6 463.1 L730.2 463.4 L730.7 463.8 L731.3 464.1 L731.8 464.6 L732.4 465.3 L733.0 466.2 L733.6 467.2 L734.2 468.2 L734.7 469.3 L735.1 470.4 L735.5 471.8 L735.8 473.3 L736.1 474.9 L736.3 476.5 L736.5 478.2 L736.8 480.0 L737.2 482.3 L737.6 484.6 L738.1 487.1 L738.5 489.6 L738.9 492.3 L739.3 495.1 L739.7 498.9 L740.0 503.0 L740.3 507.2 L740.5 511.6 L740.7 515.9 L741.0 520.2 L741.3 524.4 L741.6 528.6 L741.8 532.8 L742.1 536.9 L742.4 541.1 L742.7 545.3 L743.0 549.6 L743.4 554.1 L743.8 558.6 L744.2 562.9 L744.5 566.9 L744.8 570.4 L744.9 572.2 L745.1 573.7 L745.2 575.0 L745.3 576.4 L745.4 578.0 L745.6 580.0 L746.1 586.3 L746.8 594.5 L747.7 603.8 L748.5 613.3 L749.4 622.3 L750.2 630.0 L750.7 634.3 L751.3 638.3 L751.8 642.0 L752.3 645.5 L752.8 649.1 L753.3 652.8 L753.7 656.7 L754.1 660.6 L754.4 664.5 L754.8 668.3 L755.1 672.1 L755.5 675.6 L755.9 678.3 L756.2 680.9 L756.6 683.4 L757.0 685.8 L757.4 688.3 L757.8 690.8 L758.2 693.3 L758.5 695.9 L758.9 698.4 L759.3 700.9 L759.7 703.5 L760.1 706.0 L760.6 708.6 L761.0 711.3 L761.6 713.9 L762.1 716.5 L762.6 719.0 L763.1 721.3 L763.5 722.8 L763.8 724.2 L764.2 725.5 L764.6 726.9 L765.0 728.3 L765.4 730.0 L766.1 733.5 L766.8 737.9 L767.5 742.5 L768.4 747.0 L769.3 750.9 L770.4 753.8 L771.0 754.8 L771.6 755.7 L772.2 756.4 L772.8 757.0 L773.5 757.4 L774.2 757.6 L775.1 757.4 L776.0 756.7 L777.0 755.8 L778.0 754.8 L779.0 753.8 L780.0 753.0 L780.8 752.4 L781.7 751.8 L782.5 751.3 L783.4 750.8 L784.2 750.5 L785.0 750.5 L785.9 750.8 L786.8 751.4 L787.6 752.2 L788.5 753.1 L789.3 754.1 L790.0 755.0 L790.7 755.9 L791.2 756.8 L791.8 757.8 L792.3 758.9 L792.8 760.1 L793.3 761.4 L794.3 764.4 L795.2 767.9 L796.2 771.9 L797.1 776.1 L798.1 780.2 L799.0 784.2 L800.0 788.0 L800.9 791.8 L801.9 795.6 L802.8 799.4 L803.8 803.2 L804.7 807.0 L805.7 810.8 L806.6 814.6 L807.6 818.4 L808.5 822.2 L809.5 826.0 L810.4 829.9 L811.3 833.9 L812.2 838.0 L813.1 842.1 L814.0 846.2 L815.0 850.4 L816.0 854.6 L817.2 859.3 L818.4 864.2 L819.6 869.2 L821.0 874.1 L822.3 878.8 L823.7 883.2 L824.9 886.6 L826.2 889.8 L827.5 892.8 L828.8 895.9 L830.0 899.0 L831.3 902.2 L832.6 906.1 L833.7 910.3 L834.9 914.5 L836.1 918.6 L837.4 922.1 L839.0 925.0 L840.1 926.3 L841.4 927.2 L842.7 928.0 L844.0 928.7 L845.3 929.6 L846.5 930.7 L847.9 932.5 L849.1 934.7 L850.4 937.0 L851.5 939.4 L852.7 941.8 L854.0 944.0 L855.2 946.0 L856.4 948.0 L857.6 949.9 L858.9 951.8 L860.2 953.6 L861.7 955.4 L863.4 957.2 L865.3 959.0 L867.3 960.7 L869.3 962.3 L871.2 963.7 L873.0 965.0 L874.3 965.8 L875.5 966.5 L876.7 967.1 L877.9 967.7 L879.0 968.2 L880.0 968.8 L880.7 969.2 L881.2 969.6 L881.8 970.0 L882.3 970.4 L882.9 970.8 L883.7 971.3 L885.5 972.2 L887.7 973.1 L890.1 974.2 L892.7 975.3 L895.2 976.4 L897.4 977.7 L899.3 979.2 L901.0 980.9 L902.7 982.8 L904.3 984.5 L906.2 985.9 L908.3 986.8 L911.5 986.9 L915.1 986.1 L919.1 984.8 L922.9 983.5 L926.4 982.5 L929.3 982.2 L930.6 982.5 L931.8 983.1 L932.8 983.9 L933.8 984.5 L934.7 985.0 L935.7 985.0 L936.8 984.3 L937.9 982.9 L938.9 981.1 L940.0 979.5 L941.0 978.2 L942.1 977.7 L943.4 978.4 L944.6 980.0 L945.9 982.2 L947.2 984.5 L948.7 986.5 L950.3 987.7 L951.9 988.1 L953.6 988.0 L955.4 987.7 L957.3 987.3 L959.3 986.9 L961.3 986.8 L964.1 986.9 L967.1 987.1 L970.2 987.4 L973.3 987.7 L976.5 988.1 L979.5 988.6 L982.3 989.2 L985.1 990.0 L987.9 990.8 L990.7 991.5 L993.4 992.1 L996.0 992.3 L998.3 992.3 L1000.7 992.1 L1003.0 991.8 L1005.2 991.3 L1007.2 990.5 L1009.1 989.5 L1010.8 987.7 L1012.2 985.2 L1013.4 982.4 L1014.6 979.7 L1015.8 977.7 L1017.3 976.7 L1018.8 977.1 L1020.5 978.4 L1022.2 980.2 L1024.0 982.0 L1025.7 983.4 L1027.4 984.0 L1029.0 983.4 L1030.5 982.1 L1032.0 980.3 L1033.6 978.6 L1035.0 977.3 L1036.5 976.7 L1037.7 977.1 L1038.9 978.0 L1040.0 979.3 L1041.2 980.6 L1042.4 981.6 L1043.8 982.2 L1045.7 982.2 L1047.8 981.8 L1050.1 981.1 L1052.3 980.1 L1054.5 978.9 L1056.6 977.7 L1058.7 976.2 L1060.7 974.5 L1062.6 972.5 L1064.6 970.5 L1066.5 968.5 L1068.4 966.7 L1070.3 965.2 L1072.3 963.7 L1074.3 962.3 L1076.1 960.9 L1077.9 959.4 L1079.4 957.6 L1080.6 955.6 L1081.6 953.3 L1082.4 950.9 L1083.2 948.5 L1084.0 946.1 L1084.9 943.9 L1085.9 942.0 L1087.0 940.2 L1088.1 938.5 L1089.2 936.7 L1090.3 934.9 L1091.3 932.9 L1092.5 930.3 L1093.6 927.4 L1094.7 924.5 L1095.8 921.5 L1096.8 918.8 L1097.7 916.5 L1098.3 915.3 L1098.8 914.2 L1099.3 913.2 L1099.8 912.2 L1100.3 911.2 L1100.8 910.0 L1101.3 908.5 L1101.8 906.9 L1102.2 905.2 L1102.6 903.5 L1103.1 901.6 L1103.6 899.5 L1104.6 895.7 L1105.7 891.3 L1106.9 886.6 L1108.1 881.7 L1109.3 876.8 L1110.4 872.1 L1111.4 867.6 L1112.4 863.0 L1113.3 858.5 L1114.2 853.9 L1115.1 849.4 L1115.9 844.8 L1116.7 840.2 L1117.4 835.7 L1118.0 831.1 L1118.7 826.5 L1119.3 822.0 L1120.0 817.4 L1120.7 812.9 L1121.4 808.4 L1122.1 803.9 L1122.8 799.4 L1123.4 794.7 L1124.1 790.0 L1124.8 784.5 L1125.6 778.8 L1126.3 773.0 L1127.0 767.2 L1127.7 761.4 L1128.4 755.7 L1129.1 750.3 L1129.7 745.0 L1130.4 739.7 L1131.0 734.4 L1131.7 729.1 L1132.3 723.8 L1132.9 718.5 L1133.5 713.2 L1134.1 707.9 L1134.7 702.5 L1135.3 697.2 L1135.9 691.9 L1136.5 686.7 L1137.0 681.6 L1137.6 676.6 L1138.2 671.4 L1138.7 665.9 L1139.3 660.0 L1140.1 650.7 L1140.9 640.2 L1141.7 629.1 L1142.5 618.2 L1143.3 608.3 L1143.9 600.0 L1144.2 596.3 L1144.5 593.0 L1144.7 590.1 L1144.9 587.3 L1145.2 584.2 L1145.5 580.8 L1146.0 575.4 L1146.6 569.6 L1147.2 563.5 L1147.8 557.2 L1148.5 550.8 L1149.1 544.3 L1149.8 537.0 L1150.6 529.5 L1151.4 521.8 L1152.1 514.1 L1152.9 506.4 L1153.7 498.7 L1154.4 491.0 L1155.2 483.3 L1155.9 475.5 L1156.7 467.8 L1157.4 460.3 L1158.3 453.0 L1159.1 446.7 L1160.0 440.5 L1160.9 434.5 L1161.8 428.5 L1162.7 422.5 L1163.7 416.5 L1164.8 410.3 L1165.9 403.8 L1167.1 397.4 L1168.3 391.1 L1169.3 385.3 L1170.1 380.0 L1170.4 376.8 L1170.6 373.9 L1170.7 371.1 L1170.9 368.4 L1171.3 365.8 L1171.9 363.3 L1172.8 360.7 L1173.8 358.0 L1175.0 355.4 L1176.3 353.1 L1177.7 351.2 L1179.3 350.0 L1180.7 349.7 L1182.2 350.0 L1183.8 350.5 L1185.3 351.1 L1186.8 351.5 L1188.1 351.5 L1188.9 351.2 L1189.7 350.9 L1190.4 350.4 L1191.0 349.8 L1191.7 349.1 L1192.3 348.4 L1193.3 346.9 L1194.3 345.0 L1195.2 342.9 L1196.1 340.8 L1197.0 338.7 L1198.0 337.0 L1198.8 335.9 L1199.6 335.0 L1200.4 334.2 L1201.2 333.3 L1201.9 332.4 L1202.5 331.3 L1203.1 329.7 L1203.5 327.9 L1203.8 326.0 L1204.1 324.0 L1204.4 321.9 L1204.8 319.8 L1205.5 317.1 L1206.2 314.3 L1207.1 311.5 L1207.9 308.5 L1208.7 305.6 L1209.4 302.7 L1210.1 299.8 L1210.7 297.0 L1211.3 294.1 L1211.8 291.2 L1212.3 288.4 L1212.8 285.6 L1213.2 283.2 L1213.5 280.8 L1213.7 278.5 L1214.0 276.2 L1214.3 273.8 L1214.6 271.2 L1215.1 267.7 L1215.8 264.0 L1216.4 260.1 L1217.1 256.2 L1217.8 252.3 L1218.4 248.4 L1218.9 244.6 L1219.4 240.8 L1219.9 237.0 L1220.3 233.2 L1220.8 229.4 L1221.4 225.6 L1222.0 221.8 L1222.7 218.0 L1223.5 214.2 L1224.2 210.4 L1224.9 206.6 L1225.6 202.8 L1226.2 199.0 L1226.7 195.1 L1227.3 191.2 L1227.8 187.4 L1228.4 183.6 L1229.0 180.0 L1229.6 177.0 L1230.3 174.0 L1231.0 171.2 L1231.7 168.4 L1232.3 165.5 L1233.0 162.6 L1233.6 159.3 L1234.2 155.8 L1234.7 152.2 L1235.3 148.9 L1235.9 145.8 L1236.7 143.4 L1237.2 142.3 L1237.7 141.3 L1238.2 140.5 L1238.8 139.7 L1239.4 139.1 L1240.0 138.5 L1240.5 138.1 L1241.0 137.8 L1241.5 137.5 L1242.0 137.2 L1242.6 137.1 L1243.1 137.0 L1243.7 137.0 L1244.4 137.2 L1245.1 137.5 L1245.7 137.8 L1246.4 138.1 L1247.0 138.5 L1247.6 138.9 L1248.1 139.2 L1248.6 139.6 L1249.1 140.1 L1249.5 140.6 L1250.0 141.3 L1250.9 143.2 L1251.6 145.6 L1252.4 148.4 L1253.0 151.4 L1253.7 154.5 L1254.3 157.3 L1254.9 159.9 L1255.5 162.3 L1256.0 164.8 L1256.5 167.3 L1257.0 170.1 L1257.5 173.2 L1258.3 178.9 L1259.1 185.4 L1259.8 192.4 L1260.5 199.8 L1261.3 207.4 L1262.0 215.0 L1262.9 224.3 L1263.8 234.3 L1264.6 244.5 L1265.5 254.6 L1266.4 264.0 L1267.2 272.2 L1267.7 276.8 L1268.2 280.9 L1268.7 284.7 L1269.2 288.4 L1269.7 292.3 L1270.2 296.5 L1270.9 302.2 L1271.6 308.1 L1272.3 314.3 L1273.0 320.6 L1273.8 326.8 L1274.5 333.0 L1275.2 339.1 L1275.9 345.1 L1276.6 351.1 L1277.3 357.2 L1278.0 363.3 L1278.7 369.5 L1279.4 376.1 L1280.2 382.8 L1280.9 389.6 L1281.7 396.4 L1282.4 403.2 L1283.2 410.0 L1284.0 416.8 L1284.8 423.7 L1285.5 430.5 L1286.3 437.4 L1287.2 444.2 L1288.0 451.1 L1288.8 458.1 L1289.6 465.1 L1290.5 472.2 L1291.3 479.1 L1292.3 485.8 L1293.5 492.2 L1294.6 497.1 L1295.9 501.8 L1297.3 506.3 L1298.7 510.8 L1300.0 515.3 L1301.1 520.0 L1302.1 525.3 L1303.0 530.7 L1303.7 536.2 L1304.4 541.7 L1305.2 547.0 L1305.9 552.0 L1306.5 555.8 L1307.1 559.6 L1307.6 563.1 L1308.2 566.6 L1308.8 570.0 L1309.6 573.3 L1310.4 576.1 L1311.3 578.8 L1312.3 581.4 L1313.2 584.0 L1314.1 586.6 L1314.9 589.2 L1315.5 591.8 L1316.1 594.4 L1316.6 597.0 L1317.0 599.7 L1317.5 602.4 L1318.1 605.2 L1318.9 608.6 L1319.7 612.0 L1320.5 615.6 L1321.4 619.2 L1322.2 622.8 L1322.9 626.5 L1323.5 630.3 L1324.1 634.3 L1324.5 638.2 L1325.0 642.2 L1325.6 646.1 L1326.2 650.0 L1327.0 653.8 L1327.8 657.6 L1328.7 661.4 L1329.6 665.2 L1330.6 669.0 L1331.4 672.8 L1332.2 676.7 L1333.0 680.7 L1333.7 684.7 L1334.5 688.6 L1335.2 692.3 L1335.9 695.6 L1336.4 697.7 L1336.8 699.7 L1337.2 701.6 L1337.6 703.4 L1338.2 705.2 L1338.8 707.0 L1339.7 708.9 L1340.7 710.7 L1341.9 712.4 L1343.0 714.3 L1344.1 716.2 L1345.0 718.4 L1345.9 721.7 L1346.6 725.4 L1347.2 729.3 L1347.7 733.3 L1348.3 737.3 L1349.0 741.2 L1349.8 745.0 L1350.7 748.8 L1351.6 752.6 L1352.6 756.4 L1353.6 760.2 L1354.7 764.0 L1355.9 767.9 L1357.1 771.8 L1358.4 775.8 L1359.8 779.7 L1361.0 783.4 L1362.1 786.8 L1362.8 789.3 L1363.3 791.8 L1363.9 794.3 L1364.4 796.5 L1365.1 798.4 L1366.1 800.0 L1366.9 800.7 L1367.9 801.2 L1369.0 801.4 L1370.0 801.8 L1371.0 802.2 L1371.9 803.0 L1373.2 805.1 L1374.2 807.9 L1375.0 811.2 L1375.8 814.8 L1376.5 818.5 L1377.2 822.1 L1378.0 826.5 L1378.6 831.3 L1379.2 836.2 L1379.8 841.0 L1380.5 845.7 L1381.5 849.8 L1382.4 852.6 L1383.4 855.1 L1384.5 857.4 L1385.6 859.8 L1386.8 862.2 L1387.9 864.7 L1389.1 867.9 L1390.4 871.3 L1391.6 874.8 L1392.9 878.2 L1394.2 881.4 L1395.5 884.3 L1396.5 886.1 L1397.6 887.8 L1398.6 889.3 L1399.7 890.7 L1400.8 892.3 L1401.9 893.9 L1403.2 895.9 L1404.4 898.1 L1405.7 900.3 L1407.0 902.5 L1408.4 904.6 L1409.9 906.6 L1411.4 908.3 L1413.1 909.9 L1414.9 911.4 L1416.6 912.9 L1418.2 914.4 L1419.5 916.2 L1420.6 918.2 L1421.4 920.3 L1422.1 922.5 L1422.7 924.7 L1423.5 926.9 L1424.3 929.0 L1425.2 931.0 L1426.2 933.1 L1427.2 935.2 L1428.2 937.1 L1429.4 938.8 L1430.7 940.2 L1431.9 941.0 L1433.2 941.5 L1434.6 941.9 L1436.0 942.2 L1437.4 942.7 L1438.7 943.4 L1440.1 944.6 L1441.5 946.1 L1442.8 947.7 L1444.1 949.4 L1445.3 951.2 L1446.6 953.0 L1447.9 955.0 L1449.2 957.2 L1450.4 959.5 L1451.7 961.7 L1453.1 963.8 L1454.6 965.7 L1456.2 967.3 L1458.0 968.9 L1459.9 970.4 L1461.8 971.7 L1463.8 972.8 L1465.8 973.7 L1467.9 974.3 L1470.0 974.5 L1472.2 974.6 L1474.5 974.6 L1476.6 974.8 L1478.6 975.3 L1480.3 976.0 L1482.0 976.7 L1483.6 977.6 L1485.2 978.6 L1486.7 979.7 L1488.2 980.9 L1489.9 982.6 L1491.5 984.6 L1493.1 986.8 L1494.6 988.9 L1496.2 990.5 L1497.7 991.3 L1498.8 991.3 L1499.9 990.9 L1500.9 990.2 L1502.0 989.5 L1503.1 989.0 L1504.1 988.9 L1505.2 989.3 L1506.3 990.1 L1507.4 991.0 L1508.4 992.0 L1509.5 992.7 L1510.5 992.9 L1511.5 992.5 L1512.5 991.5 L1513.4 990.3 L1514.3 989.2 L1515.2 988.3 L1516.1 988.1 L1517.1 988.9 L1517.9 990.5 L1518.7 992.7 L1519.6 995.1 L1520.5 997.4 L1521.7 999.3 L1523.0 1000.8 L1524.5 1002.3 L1526.1 1003.7 L1527.8 1004.8 L1529.6 1005.7 L1531.4 1006.2 L1533.4 1006.0 L1535.6 1005.1 L1537.9 1003.9 L1540.2 1002.6 L1542.3 1001.8 L1544.3 1001.6 L1545.9 1002.3 L1547.3 1003.6 L1548.7 1005.2 L1550.0 1006.8 L1551.3 1008.0 L1552.7 1008.4 L1554.2 1007.8 L1555.7 1006.3 L1557.2 1004.3 L1558.7 1002.3 L1560.2 1000.8 L1561.8 1000.1 L1563.4 1000.6 L1565.1 1001.8 L1566.8 1003.5 L1568.5 1005.2 L1570.1 1006.5 L1571.7 1006.9 L1573.3 1006.1 L1574.8 1004.4 L1576.3 1002.3 L1577.7 1000.0 L1579.2 998.1 L1580.8 997.0 L1582.1 996.8 L1583.4 997.1 L1584.7 997.5 L1586.0 997.9 L1587.3 998.1 L1588.4 997.8 L1589.7 996.4 L1590.8 993.9 L1591.8 991.1 L1592.8 988.3 L1593.6 986.3 L1594.5 985.6 L1595.5 986.8 L1596.3 989.7 L1597.1 993.6 L1597.9 997.9 L1598.8 1001.9 L1599.8 1005.0 L1600.6 1006.6 L1601.5 1008.3 L1602.3 1009.7 L1603.3 1011.0 L1604.2 1011.9 L1605.2 1012.5 L1605.9 1012.5 L1606.7 1012.2 L1607.4 1011.8 L1608.2 1011.3 L1609.0 1011.0 L1609.7 1011.0 L1610.6 1011.6 L1611.5 1012.6 L1612.4 1013.9 L1613.2 1015.3 L1614.1 1016.6 L1615.1 1017.6 L1615.9 1018.2 L1616.8 1018.8 L1617.7 1019.3 L1618.6 1019.7 L1619.5 1020.0 L1620.5 1020.2 L1621.6 1020.4 L1622.8 1020.5 L1624.0 1020.5 L1625.2 1020.4 L1626.3 1020.1 L1627.4 1019.5 L1628.8 1017.7 L1629.9 1014.9 L1630.9 1011.6 L1631.9 1008.5 L1633.0 1006.2 L1634.2 1005.2 L1635.7 1006.2 L1637.4 1008.8 L1639.1 1012.3 L1640.9 1015.9 L1642.7 1018.8 L1644.5 1020.2 L1645.8 1020.0 L1647.2 1019.1 L1648.6 1017.8 L1650.0 1016.5 L1651.4 1015.6 L1652.7 1015.4 L1654.3 1016.5 L1655.8 1018.9 L1657.3 1021.7 L1658.7 1024.6 L1660.1 1026.8 L1661.6 1027.8 L1662.8 1027.6 L1664.0 1026.9 L1665.1 1025.8 L1666.3 1024.5 L1667.4 1023.0 L1668.4 1021.6 L1669.5 1019.5 L1670.3 1016.7 L1671.1 1013.9 L1671.9 1011.2 L1672.8 1009.1 L1673.9 1007.9 L1674.9 1007.8 L1676.0 1008.1 L1677.2 1008.7 L1678.3 1009.3 L1679.1 1009.8 L1679.4 1010.0" stroke="#ff0000"/>
<path d="M338.0 1013.0 L339.1 1012.8 L342.0 1012.5 L346.2 1011.9 L351.0 1011.2 L355.8 1010.6 L360.0 1010.0 L364.0 1009.3 L368.0 1008.5 L372.1 1007.7 L376.2 1007.0 L380.2 1006.6 L384.0 1006.7 L387.3 1007.2 L390.6 1007.9 L393.8 1008.9 L396.9 1010.1 L400.0 1011.5 L403.0 1013.0 L406.2 1014.9 L409.5 1017.0 L412.6 1019.4 L415.7 1021.9 L418.7 1024.4 L421.5 1027.0 L424.0 1029.7 L426.4 1032.7 L428.7 1035.7 L431.0 1038.6 L433.2 1041.1 L435.5 1043.0 L437.0 1043.8 L438.5 1044.3 L440.0 1044.6 L441.6 1044.9 L443.1 1045.2 L444.7 1045.7 L446.6 1046.6 L448.7 1047.8 L450.7 1049.0 L452.8 1050.1 L454.8 1050.8 L456.8 1051.0 L458.7 1050.6 L460.7 1049.7 L462.6 1048.5 L464.5 1047.0 L466.3 1045.5 L468.0 1044.0 L469.6 1042.4 L471.0 1040.6 L472.4 1038.7 L473.8 1036.9 L475.3 1035.1 L477.0 1033.6 L478.9 1032.3 L481.0 1031.2 L483.2 1030.2 L485.4 1029.3 L487.7 1028.4 L490.0 1027.7 L492.2 1027.1 L494.5 1026.7 L496.7 1026.4 L499.1 1026.0 L501.5 1025.6 L504.0 1025.0 L507.6 1023.9 L511.4 1022.5 L515.3 1021.0 L519.3 1019.4 L523.3 1017.9 L527.0 1016.6 L530.1 1015.6 L533.2 1014.6 L536.3 1013.7 L539.3 1012.9 L542.2 1012.2 L545.0 1011.5 L547.3 1011.0 L549.4 1010.6 L551.5 1010.2 L553.6 1009.9 L555.7 1009.7 L558.0 1009.5 L560.7 1009.4 L563.5 1009.4 L566.4 1009.5 L569.3 1009.6 L572.2 1009.8 L575.0 1010.0 L577.6 1010.2 L580.2 1010.5 L582.8 1010.9 L585.3 1011.2 L587.7 1011.6 L590.0 1012.0 L591.8 1012.4 L593.4 1012.8 L595.0 1013.2 L596.6 1013.6 L598.2 1013.9 L600.0 1014.0 L602.3 1014.0 L604.8 1013.8 L607.3 1013.5 L609.9 1013.1 L612.5 1012.6 L615.0 1012.0 L617.5 1011.4 L620.0 1010.6 L622.5 1009.7 L625.0 1008.8 L627.5 1007.9 L630.0 1007.0 L632.5 1006.1 L635.1 1005.1 L637.7 1004.1 L640.3 1003.1 L642.7 1002.1 L645.0 1001.0 L646.8 1000.0 L648.5 998.9 L650.1 997.8 L651.7 996.7 L653.3 995.8 L655.0 995.0 L656.6 994.5 L658.2 994.3 L659.7 994.1 L661.4 993.9 L663.0 993.6 L664.7 993.0 L667.4 991.6 L670.3 989.9 L673.3 987.8 L676.2 985.5 L678.7 983.2 L680.8 980.8 L682.0 978.9 L682.9 976.9 L683.6 974.8 L684.2 972.7 L684.8 970.6 L685.5 968.5 L686.2 966.5 L686.9 964.7 L687.6 962.8 L688.3 960.8 L689.0 958.8 L689.7 956.5 L690.7 953.0 L691.8 949.0 L692.9 944.9 L693.9 940.6 L694.9 936.3 L695.8 932.2 L696.6 928.2 L697.4 924.2 L698.1 920.2 L698.7 916.3 L699.3 912.4 L699.9 908.5 L700.3 905.0 L700.7 901.5 L701.1 898.1 L701.4 894.7 L701.7 891.3 L702.0 887.9 L702.3 884.5 L702.7 881.2 L703.0 877.9 L703.3 874.5 L703.7 871.1 L704.0 867.4 L704.4 862.7 L704.8 857.7 L705.1 852.6 L705.5 847.4 L705.8 842.2 L706.2 836.9 L706.6 831.3 L706.9 825.6 L707.3 819.9 L707.6 814.2 L708.0 808.4 L708.4 802.7 L708.9 797.0 L709.4 791.3 L709.9 785.6 L710.4 779.8 L710.9 774.1 L711.3 768.4 L711.7 762.7 L712.0 756.9 L712.3 751.1 L712.5 745.3 L712.8 739.7 L713.0 734.2 L713.2 729.5 L713.3 725.0 L713.4 720.5 L713.6 716.1 L713.7 711.6 L713.9 706.9 L714.2 701.4 L714.5 695.8 L714.9 690.0 L715.2 684.2 L715.6 678.4 L716.0 672.7 L716.4 667.0 L716.7 661.3 L717.1 655.5 L717.5 649.8 L717.9 644.1 L718.3 638.4 L718.7 632.6 L719.0 626.7 L719.4 620.9 L719.8 615.1 L720.3 609.5 L720.8 604.2 L721.3 600.0 L721.7 595.8 L722.2 591.7 L722.8 587.9 L723.5 584.4 L724.5 581.4 L725.3 579.7 L726.1 578.1 L727.0 576.7 L728.0 575.4 L729.0 574.1 L730.0 573.0 L731.0 571.9 L732.0 570.8 L733.1 569.7 L734.2 568.9 L735.1 568.4 L736.0 568.4 L737.2 569.9 L738.0 573.0 L738.6 577.2 L739.1 582.1 L739.6 587.1 L740.2 591.8 L741.0 597.7 L741.9 604.2 L742.7 610.9 L743.5 617.6 L744.2 624.1 L744.9 630.0 L745.3 634.2 L745.7 638.1 L746.0 641.9 L746.3 645.6 L746.7 649.2 L747.2 652.8 L747.7 656.1 L748.3 659.4 L748.9 662.6 L749.5 665.7 L750.2 668.8 L751.0 671.8 L751.8 674.5 L752.6 677.2 L753.4 679.8 L754.3 682.3 L755.3 684.7 L756.3 687.0 L757.2 688.8 L758.3 690.5 L759.3 692.1 L760.4 693.7 L761.4 695.3 L762.4 696.9 L763.2 698.4 L764.0 699.9 L764.8 701.4 L765.6 702.9 L766.3 704.4 L767.0 706.0 L767.7 707.7 L768.3 709.6 L768.8 711.5 L769.4 713.2 L770.0 714.8 L770.7 715.9 L771.1 716.4 L771.5 716.8 L771.9 717.1 L772.3 717.4 L772.6 717.5 L773.0 717.5 L773.4 717.3 L773.7 716.8 L774.0 716.1 L774.3 715.3 L774.6 714.5 L775.0 713.6 L775.7 711.9 L776.5 709.8 L777.4 707.5 L778.3 705.2 L779.3 702.8 L780.4 700.6 L781.7 698.1 L783.1 695.3 L784.5 692.5 L786.0 690.2 L787.4 688.5 L788.7 688.0 L790.0 689.2 L791.3 692.0 L792.4 695.9 L793.4 700.4 L794.4 704.9 L795.4 709.0 L796.4 713.1 L797.3 717.3 L798.2 721.6 L799.0 725.9 L799.8 730.0 L800.5 734.0 L801.1 737.1 L801.6 740.1 L802.0 743.0 L802.5 745.9 L803.0 748.8 L803.5 752.0 L804.2 756.1 L805.0 760.4 L805.9 764.9 L806.7 769.4 L807.6 774.0 L808.5 778.5 L809.4 783.2 L810.3 788.0 L811.3 792.9 L812.2 797.7 L813.2 802.4 L814.2 807.0 L815.1 811.0 L816.1 814.8 L817.0 818.6 L818.0 822.4 L819.0 826.1 L819.9 830.0 L820.8 834.1 L821.7 838.1 L822.7 842.3 L823.6 846.4 L824.5 850.5 L825.6 854.6 L826.8 858.8 L828.0 863.0 L829.2 867.2 L830.6 871.3 L831.9 875.4 L833.2 879.4 L834.4 883.0 L835.6 886.7 L836.8 890.2 L838.0 893.7 L839.3 897.1 L840.8 900.3 L842.2 903.1 L843.8 905.8 L845.4 908.4 L847.1 910.9 L848.7 913.2 L850.3 915.5 L851.6 917.2 L852.8 918.9 L854.0 920.5 L855.3 922.0 L856.6 923.5 L858.0 925.0 L859.8 926.7 L861.7 928.3 L863.7 929.8 L865.7 931.4 L867.6 933.1 L869.4 935.0 L871.1 937.2 L872.7 939.5 L874.3 941.9 L875.8 944.4 L877.4 946.9 L879.1 949.4 L881.2 952.3 L883.4 955.4 L885.6 958.4 L888.0 961.4 L890.3 964.2 L892.8 966.7 L894.9 968.6 L897.1 970.5 L899.3 972.2 L901.6 973.7 L904.0 974.9 L906.5 975.8 L909.3 976.3 L912.3 976.5 L915.5 976.4 L918.6 976.0 L921.8 975.5 L924.8 974.9 L927.8 973.9 L930.9 972.5 L934.0 970.9 L936.9 969.5 L939.7 968.6 L942.1 968.5 L943.7 969.2 L945.1 970.5 L946.4 972.1 L947.7 973.7 L948.9 975.1 L950.3 975.8 L951.5 975.8 L952.7 975.5 L953.9 975.0 L955.2 974.4 L956.4 974.0 L957.6 974.0 L958.9 974.5 L960.2 975.3 L961.5 976.3 L962.9 977.5 L964.3 978.6 L965.8 979.5 L967.8 980.4 L970.0 981.3 L972.4 982.2 L974.8 982.9 L977.1 983.5 L979.5 984.0 L981.8 984.3 L984.2 984.4 L986.6 984.4 L989.0 984.3 L991.2 984.1 L993.2 984.0 L994.5 983.9 L995.6 983.9 L996.7 983.8 L997.8 983.7 L998.9 983.4 L1000.0 983.1 L1001.3 982.5 L1002.7 981.8 L1004.0 980.9 L1005.3 980.0 L1006.7 979.0 L1008.0 978.0 L1009.5 976.7 L1011.1 975.1 L1012.6 973.4 L1014.1 971.9 L1015.7 970.8 L1017.3 970.4 L1019.0 970.9 L1020.6 972.3 L1022.4 974.0 L1024.1 975.8 L1025.8 977.2 L1027.4 977.7 L1029.0 977.1 L1030.5 975.8 L1032.0 974.1 L1033.5 972.3 L1035.0 971.0 L1036.5 970.4 L1038.0 970.8 L1039.4 971.9 L1040.8 973.4 L1042.3 974.9 L1043.9 976.1 L1045.6 976.7 L1048.3 976.6 L1051.2 975.8 L1054.4 974.6 L1057.7 973.0 L1060.9 971.2 L1063.9 969.4 L1067.1 967.3 L1070.4 965.0 L1073.7 962.4 L1076.7 959.6 L1079.6 956.8 L1082.1 953.9 L1084.0 951.2 L1085.7 948.3 L1087.1 945.4 L1088.5 942.4 L1089.8 939.5 L1091.3 936.6 L1092.9 933.9 L1094.5 931.3 L1096.2 928.6 L1097.7 926.0 L1099.2 923.5 L1100.4 921.0 L1101.2 919.1 L1101.9 917.2 L1102.4 915.4 L1103.0 913.6 L1103.5 911.8 L1104.0 910.0 L1104.5 908.3 L1104.9 906.7 L1105.4 905.0 L1105.8 903.4 L1106.3 901.5 L1106.8 899.5 L1107.8 895.7 L1109.0 891.3 L1110.3 886.6 L1111.6 881.7 L1112.9 876.8 L1114.1 872.1 L1115.2 867.6 L1116.4 863.0 L1117.5 858.5 L1118.5 853.9 L1119.6 849.4 L1120.5 844.8 L1121.4 840.2 L1122.1 835.7 L1122.9 831.1 L1123.6 826.5 L1124.3 822.0 L1125.0 817.4 L1125.8 812.9 L1126.6 808.4 L1127.3 803.9 L1128.1 799.4 L1128.9 794.7 L1129.6 790.0 L1130.4 784.5 L1131.1 778.8 L1131.8 773.0 L1132.5 767.2 L1133.2 761.4 L1133.9 755.7 L1134.6 750.3 L1135.2 745.0 L1135.9 739.7 L1136.5 734.4 L1137.1 729.1 L1137.7 723.8 L1138.3 718.5 L1138.8 713.2 L1139.3 707.9 L1139.8 702.5 L1140.4 697.2 L1140.9 691.9 L1141.4 686.7 L1141.9 681.6 L1142.5 676.6 L1143.0 671.4 L1143.6 665.9 L1144.3 660.0 L1145.5 650.5 L1146.9 639.5 L1148.4 628.0 L1149.9 617.0 L1151.1 607.3 L1152.0 600.0 L1152.2 597.9 L1152.3 596.2 L1152.4 594.8 L1152.5 593.4 L1152.6 591.9 L1152.8 590.0 L1153.2 586.2 L1153.8 581.8 L1154.4 577.1 L1155.1 572.2 L1155.8 567.2 L1156.4 562.5 L1157.0 557.9 L1157.6 553.4 L1158.2 548.8 L1158.9 544.3 L1159.5 539.8 L1160.1 535.2 L1160.7 530.6 L1161.3 526.1 L1161.8 521.5 L1162.4 516.9 L1163.0 512.4 L1163.7 507.8 L1164.4 503.2 L1165.1 498.5 L1165.9 493.7 L1166.7 489.1 L1167.5 484.6 L1168.3 480.4 L1169.0 477.1 L1169.7 474.1 L1170.4 471.1 L1171.2 468.2 L1172.0 465.2 L1172.9 462.1 L1174.0 458.5 L1175.2 454.7 L1176.4 450.9 L1177.7 447.1 L1179.0 443.5 L1180.2 440.2 L1181.1 437.9 L1182.0 435.8 L1182.8 433.8 L1183.7 431.8 L1184.6 429.7 L1185.6 427.5 L1187.0 424.4 L1188.6 421.1 L1190.2 417.7 L1191.9 414.2 L1193.4 410.7 L1194.8 407.4 L1195.9 404.5 L1196.9 401.7 L1197.8 398.9 L1198.7 396.0 L1199.5 393.1 L1200.3 390.0 L1201.2 386.2 L1202.0 382.1 L1202.7 378.0 L1203.4 373.8 L1204.1 369.6 L1204.8 365.5 L1205.5 361.7 L1206.2 358.0 L1206.8 354.3 L1207.5 350.6 L1208.1 346.8 L1208.8 342.7 L1209.6 337.4 L1210.3 331.8 L1211.1 326.1 L1211.8 320.2 L1212.6 314.3 L1213.4 308.4 L1214.3 302.2 L1215.3 295.8 L1216.3 289.3 L1217.3 283.0 L1218.2 276.9 L1219.1 271.2 L1219.7 267.1 L1220.3 263.2 L1220.9 259.5 L1221.4 255.8 L1221.9 252.1 L1222.5 248.4 L1223.1 244.6 L1223.6 240.8 L1224.1 237.0 L1224.7 233.2 L1225.3 229.4 L1226.0 225.6 L1226.8 221.8 L1227.7 218.0 L1228.6 214.2 L1229.6 210.4 L1230.5 206.6 L1231.3 202.8 L1232.0 199.0 L1232.6 195.1 L1233.2 191.3 L1233.7 187.5 L1234.4 183.7 L1235.1 180.0 L1235.9 176.5 L1236.7 172.9 L1237.6 169.3 L1238.5 165.9 L1239.5 163.0 L1240.5 160.5 L1241.1 159.4 L1241.6 158.4 L1242.2 157.5 L1242.7 156.8 L1243.4 156.1 L1244.0 155.5 L1244.5 155.1 L1245.1 154.7 L1245.7 154.4 L1246.3 154.2 L1246.8 154.0 L1247.4 154.0 L1247.9 154.1 L1248.5 154.3 L1249.0 154.6 L1249.5 155.0 L1250.0 155.5 L1250.5 156.0 L1251.1 156.8 L1251.5 157.7 L1252.0 158.8 L1252.4 159.9 L1252.8 161.2 L1253.2 162.6 L1253.9 165.4 L1254.7 168.8 L1255.4 172.5 L1256.1 176.3 L1256.8 180.2 L1257.5 183.9 L1258.2 187.4 L1259.0 191.0 L1259.7 194.5 L1260.4 198.1 L1261.1 201.6 L1261.8 205.2 L1262.4 208.6 L1262.9 211.9 L1263.5 215.2 L1264.0 218.6 L1264.5 222.3 L1265.0 226.5 L1265.9 234.8 L1266.9 244.6 L1267.9 255.2 L1268.9 265.8 L1269.9 275.8 L1270.8 284.3 L1271.3 289.0 L1271.8 293.2 L1272.3 297.2 L1272.8 301.0 L1273.3 304.8 L1273.9 308.7 L1274.5 312.7 L1275.2 316.6 L1275.9 320.5 L1276.7 324.5 L1277.4 328.7 L1278.1 333.0 L1278.9 338.7 L1279.6 344.6 L1280.4 350.8 L1281.2 357.1 L1282.0 363.3 L1283.0 369.5 L1284.2 375.8 L1285.7 382.3 L1287.2 388.8 L1288.7 395.1 L1289.9 401.1 L1290.9 406.5 L1291.3 409.9 L1291.6 413.2 L1291.9 416.2 L1292.0 419.1 L1292.2 421.9 L1292.4 424.7 L1292.6 426.9 L1292.8 428.9 L1293.0 430.9 L1293.2 432.9 L1293.4 434.9 L1293.6 436.9 L1293.8 439.1 L1294.0 441.2 L1294.3 443.4 L1294.5 445.6 L1294.8 447.8 L1295.2 450.0 L1295.7 452.4 L1296.3 454.9 L1296.9 457.4 L1297.6 459.9 L1298.3 462.4 L1299.0 464.8 L1299.7 467.1 L1300.3 469.3 L1301.0 471.5 L1301.7 473.7 L1302.4 476.1 L1303.1 478.5 L1303.9 481.8 L1304.6 485.4 L1305.4 489.2 L1306.1 492.9 L1307.0 496.2 L1307.9 499.0 L1308.5 500.4 L1309.2 501.5 L1309.9 502.5 L1310.7 503.5 L1311.3 504.6 L1312.0 505.9 L1312.8 507.9 L1313.6 510.0 L1314.3 512.2 L1315.0 514.7 L1315.8 517.2 L1316.5 520.0 L1317.6 524.6 L1318.8 529.7 L1319.9 535.2 L1321.0 540.9 L1322.2 546.5 L1323.4 552.0 L1324.6 557.4 L1325.9 562.9 L1327.2 568.4 L1328.5 573.7 L1329.7 579.0 L1330.9 583.9 L1331.8 587.7 L1332.6 591.3 L1333.4 594.8 L1334.2 598.3 L1334.9 601.7 L1335.7 605.2 L1336.4 608.7 L1337.1 612.3 L1337.8 615.8 L1338.4 619.3 L1339.1 622.9 L1339.9 626.5 L1340.8 630.4 L1341.7 634.3 L1342.7 638.2 L1343.7 642.2 L1344.7 646.1 L1345.6 650.0 L1346.5 653.8 L1347.3 657.6 L1348.2 661.4 L1349.0 665.2 L1349.9 669.0 L1350.7 672.8 L1351.5 676.6 L1352.4 680.4 L1353.2 684.2 L1354.1 688.0 L1355.0 691.8 L1355.9 695.6 L1356.9 699.4 L1357.9 703.2 L1359.0 707.0 L1360.0 710.8 L1361.1 714.6 L1362.1 718.4 L1363.1 722.4 L1364.0 726.6 L1364.8 730.8 L1365.8 734.8 L1366.7 738.3 L1367.8 741.2 L1368.4 742.4 L1369.1 743.3 L1369.8 744.1 L1370.5 744.9 L1371.2 745.8 L1371.8 746.9 L1372.6 749.1 L1373.2 751.8 L1373.7 754.7 L1374.2 757.8 L1374.7 760.9 L1375.3 764.0 L1376.0 767.7 L1376.8 771.6 L1377.6 775.6 L1378.4 779.5 L1379.1 783.3 L1379.8 786.8 L1380.2 789.3 L1380.6 791.6 L1381.0 793.9 L1381.4 796.0 L1381.7 798.1 L1382.1 800.0 L1382.3 801.3 L1382.5 802.5 L1382.7 803.6 L1382.9 804.7 L1383.2 805.9 L1383.6 807.2 L1384.6 809.6 L1385.9 812.4 L1387.4 815.3 L1389.0 818.3 L1390.6 821.3 L1392.1 824.3 L1393.5 827.4 L1394.9 830.6 L1396.3 833.9 L1397.8 837.1 L1399.2 840.3 L1400.6 843.4 L1402.0 846.3 L1403.4 849.1 L1404.8 851.9 L1406.3 854.7 L1407.7 857.5 L1409.1 860.4 L1410.6 863.5 L1412.0 866.8 L1413.5 870.1 L1415.0 873.3 L1416.4 876.5 L1417.7 879.6 L1418.8 882.2 L1419.9 884.7 L1420.9 887.2 L1421.9 889.7 L1422.9 892.1 L1424.0 894.5 L1425.1 896.8 L1426.2 899.1 L1427.3 901.4 L1428.5 903.7 L1429.6 906.0 L1430.7 908.2 L1431.7 910.5 L1432.7 912.9 L1433.6 915.3 L1434.6 917.6 L1435.8 919.5 L1437.1 921.0 L1438.3 921.7 L1439.6 922.0 L1441.0 922.2 L1442.5 922.4 L1443.8 922.7 L1445.0 923.4 L1446.3 924.8 L1447.3 926.7 L1448.3 928.8 L1449.2 931.1 L1450.2 933.4 L1451.4 935.4 L1452.8 937.4 L1454.3 939.3 L1455.9 941.2 L1457.6 943.0 L1459.3 944.8 L1461.0 946.6 L1462.8 948.3 L1464.6 950.0 L1466.5 951.7 L1468.4 953.3 L1470.3 954.8 L1472.2 956.1 L1473.8 957.1 L1475.4 957.9 L1477.1 958.7 L1478.7 959.4 L1480.3 960.1 L1481.8 960.9 L1483.2 961.6 L1484.6 962.3 L1486.0 963.0 L1487.4 963.7 L1488.6 964.6 L1489.8 965.7 L1491.1 967.7 L1492.2 970.3 L1493.1 973.1 L1494.1 975.7 L1495.1 977.6 L1496.1 978.5 L1496.9 978.2 L1497.7 977.3 L1498.5 976.1 L1499.3 974.9 L1500.1 974.0 L1500.9 973.7 L1501.9 974.4 L1502.9 976.2 L1503.9 978.4 L1505.0 980.6 L1506.1 982.4 L1507.3 983.3 L1508.5 983.1 L1509.9 982.1 L1511.3 980.8 L1512.8 979.5 L1514.1 978.6 L1515.3 978.5 L1516.6 979.6 L1517.6 981.8 L1518.5 984.7 L1519.3 987.8 L1520.4 990.7 L1521.7 992.9 L1523.1 994.4 L1524.6 995.9 L1526.2 997.2 L1527.9 998.3 L1529.6 999.0 L1531.4 999.3 L1533.6 998.7 L1536.0 997.3 L1538.4 995.3 L1540.8 993.4 L1543.1 992.1 L1545.1 991.7 L1546.6 992.5 L1547.9 994.1 L1549.1 996.1 L1550.3 998.0 L1551.4 999.5 L1552.7 1000.1 L1554.1 999.4 L1555.6 997.7 L1557.1 995.4 L1558.6 993.0 L1560.2 991.1 L1561.8 990.2 L1563.3 990.4 L1564.9 991.2 L1566.5 992.4 L1568.2 993.7 L1569.9 994.8 L1571.7 995.5 L1573.8 995.9 L1576.0 996.2 L1578.3 996.3 L1580.6 996.2 L1582.7 995.7 L1584.6 994.8 L1586.7 992.3 L1588.6 988.5 L1590.3 984.0 L1591.8 979.9 L1593.2 976.8 L1594.5 975.7 L1595.6 976.9 L1596.5 979.7 L1597.3 983.5 L1598.0 987.8 L1598.8 991.8 L1599.8 995.0 L1600.6 996.9 L1601.4 998.8 L1602.3 1000.5 L1603.2 1002.1 L1604.2 1003.2 L1605.2 1003.9 L1605.9 1003.9 L1606.7 1003.6 L1607.4 1003.2 L1608.2 1002.7 L1609.0 1002.4 L1609.7 1002.4 L1610.6 1003.0 L1611.5 1004.2 L1612.4 1005.7 L1613.3 1007.3 L1614.2 1008.8 L1615.1 1010.0 L1615.9 1010.9 L1616.8 1011.9 L1617.6 1012.8 L1618.5 1013.5 L1619.5 1014.0 L1620.5 1014.1 L1622.3 1013.1 L1624.3 1010.8 L1626.5 1007.8 L1628.6 1004.9 L1630.8 1002.7 L1632.9 1001.8 L1634.9 1002.7 L1636.8 1004.9 L1638.8 1007.8 L1640.7 1010.7 L1642.6 1013.0 L1644.5 1014.1 L1645.9 1013.8 L1647.3 1012.9 L1648.7 1011.6 L1650.1 1010.4 L1651.4 1009.5 L1652.7 1009.3 L1654.3 1010.5 L1655.8 1012.8 L1657.2 1015.7 L1658.6 1018.6 L1660.1 1020.8 L1661.6 1021.6 L1663.6 1020.2 L1665.7 1016.7 L1667.9 1012.1 L1670.0 1007.5 L1672.0 1003.9 L1673.9 1002.4 L1675.0 1002.7 L1676.2 1003.7 L1677.4 1005.1 L1678.4 1006.4 L1679.1 1007.5 L1679.4 1007.9" stroke="#0000ff"/>
<path d="M338.0 1006.7 L338.6 1006.8 L340.2 1006.9 L342.4 1007.1 L345.0 1007.3 L347.6 1007.4 L350.0 1007.5 L352.5 1007.5 L355.0 1007.4 L357.6 1007.2 L360.3 1007.0 L363.1 1007.0 L366.0 1007.0 L370.3 1007.1 L375.0 1007.3 L380.0 1007.6 L384.9 1008.1 L389.7 1008.9 L394.0 1010.0 L397.4 1011.3 L400.7 1012.9 L403.8 1014.7 L406.7 1016.6 L409.5 1018.6 L412.0 1020.6 L413.9 1022.2 L415.5 1023.9 L417.1 1025.6 L418.5 1027.4 L420.0 1029.2 L421.5 1031.0 L423.1 1032.9 L424.7 1034.9 L426.3 1036.9 L427.9 1038.9 L429.4 1041.0 L431.0 1043.0 L432.5 1045.2 L434.1 1047.6 L435.6 1050.1 L437.1 1052.3 L438.6 1054.0 L440.0 1055.0 L440.8 1055.1 L441.5 1054.9 L442.3 1054.6 L443.1 1054.2 L443.9 1054.0 L444.7 1054.0 L446.1 1054.6 L447.6 1055.8 L449.1 1057.3 L450.7 1058.7 L452.4 1059.9 L454.0 1060.5 L455.6 1060.6 L457.2 1060.5 L458.9 1060.1 L460.6 1059.5 L462.1 1058.7 L463.6 1057.7 L465.3 1055.8 L466.8 1053.1 L468.2 1050.1 L469.5 1047.0 L470.9 1044.2 L472.6 1042.0 L474.0 1040.8 L475.6 1039.8 L477.2 1039.0 L478.8 1038.3 L480.4 1037.7 L482.0 1037.0 L483.3 1036.4 L484.6 1035.9 L485.9 1035.4 L487.2 1034.9 L488.5 1034.4 L490.0 1034.0 L492.1 1033.5 L494.4 1033.2 L496.8 1032.9 L499.2 1032.5 L501.7 1032.1 L504.0 1031.5 L506.4 1030.7 L508.7 1029.7 L511.1 1028.6 L513.4 1027.4 L515.7 1026.2 L518.0 1025.0 L520.2 1023.8 L522.3 1022.4 L524.3 1021.0 L526.4 1019.7 L528.6 1018.5 L530.8 1017.5 L533.2 1016.8 L535.6 1016.4 L538.1 1016.1 L540.6 1015.8 L543.1 1015.4 L545.7 1014.8 L548.6 1013.7 L551.6 1012.2 L554.6 1010.6 L557.6 1009.1 L560.8 1007.9 L564.0 1007.3 L567.7 1007.4 L571.6 1008.3 L575.5 1009.5 L579.5 1010.9 L583.5 1012.1 L587.5 1013.0 L591.4 1013.5 L595.4 1014.0 L599.4 1014.3 L603.3 1014.5 L607.1 1014.6 L610.6 1014.5 L613.2 1014.3 L615.6 1014.1 L617.9 1013.7 L620.1 1013.3 L622.4 1012.7 L624.6 1012.0 L627.0 1011.0 L629.3 1009.8 L631.7 1008.5 L634.0 1007.1 L636.3 1005.7 L638.5 1004.5 L640.5 1003.5 L642.4 1002.5 L644.3 1001.5 L646.1 1000.5 L648.0 999.7 L650.0 999.0 L652.0 998.5 L654.0 998.1 L656.0 997.9 L658.0 997.6 L660.0 997.4 L662.0 997.0 L663.9 996.6 L665.8 996.3 L667.6 996.0 L669.4 995.5 L671.2 994.9 L673.0 994.0 L675.2 992.4 L677.4 990.4 L679.6 988.1 L681.6 985.7 L683.4 983.2 L685.0 980.8 L686.1 978.8 L686.9 976.8 L687.6 974.7 L688.2 972.6 L688.8 970.6 L689.5 968.5 L690.2 966.5 L690.9 964.7 L691.5 962.8 L692.2 960.8 L692.9 958.8 L693.6 956.5 L694.7 953.0 L695.9 949.0 L697.1 944.9 L698.3 940.6 L699.4 936.4 L700.3 932.2 L701.0 928.2 L701.6 924.2 L702.1 920.2 L702.5 916.3 L703.0 912.4 L703.4 908.5 L703.8 905.0 L704.2 901.5 L704.6 898.1 L705.0 894.7 L705.4 891.3 L705.8 887.9 L706.2 884.5 L706.6 881.2 L706.9 877.9 L707.3 874.5 L707.7 871.1 L708.1 867.4 L708.6 862.7 L709.2 857.7 L709.7 852.6 L710.3 847.4 L710.8 842.2 L711.3 836.9 L711.7 831.3 L712.1 825.7 L712.5 819.9 L712.8 814.2 L713.2 808.4 L713.6 802.7 L714.0 797.0 L714.5 791.3 L715.0 785.5 L715.4 779.8 L715.9 774.1 L716.4 768.4 L716.9 762.7 L717.3 757.0 L717.8 751.3 L718.2 745.6 L718.8 739.9 L719.5 734.2 L720.4 728.2 L721.5 721.9 L722.6 715.6 L723.7 709.6 L724.7 704.3 L725.5 700.0 L725.8 698.4 L725.9 697.0 L726.1 695.7 L726.3 694.5 L726.5 693.3 L726.8 692.0 L727.3 690.2 L727.9 688.4 L728.6 686.5 L729.3 684.6 L730.1 682.7 L731.0 681.0 L731.9 679.2 L732.9 677.3 L734.0 675.4 L735.0 673.8 L736.0 672.7 L736.9 672.2 L737.4 672.3 L737.9 672.7 L738.4 673.3 L738.8 674.0 L739.2 674.8 L739.6 675.6 L740.1 677.1 L740.5 678.9 L740.9 680.8 L741.2 682.9 L741.5 685.0 L741.8 687.0 L742.2 688.9 L742.5 690.7 L742.9 692.6 L743.3 694.5 L743.7 696.4 L744.1 698.4 L744.6 701.1 L745.0 704.4 L745.5 707.7 L746.0 710.6 L746.5 712.7 L747.2 713.6 L747.8 713.3 L748.4 712.4 L749.0 711.0 L749.7 709.3 L750.4 707.6 L751.0 706.0 L751.8 703.7 L752.5 701.1 L753.2 698.4 L753.9 695.6 L754.7 693.1 L755.5 690.8 L756.2 689.3 L756.9 687.9 L757.7 686.6 L758.5 685.4 L759.3 684.3 L760.1 683.2 L760.8 682.2 L761.6 681.2 L762.3 680.3 L763.1 679.5 L763.9 678.9 L764.7 678.7 L765.6 679.0 L766.5 679.9 L767.4 681.0 L768.3 682.1 L769.2 682.9 L770.0 683.2 L770.9 682.7 L771.8 681.6 L772.6 680.1 L773.4 678.5 L774.2 676.9 L775.0 675.6 L775.6 674.7 L776.3 673.9 L776.9 673.2 L777.5 672.4 L778.1 671.5 L778.7 670.5 L779.8 667.9 L780.9 664.5 L782.0 660.7 L783.1 657.3 L784.2 654.8 L785.4 653.8 L786.5 654.4 L787.6 655.9 L788.8 658.3 L789.9 661.1 L791.0 664.1 L792.0 667.0 L793.4 671.6 L794.6 676.7 L795.7 682.4 L796.7 688.3 L797.7 694.4 L798.8 700.6 L800.1 708.4 L801.4 716.6 L802.7 725.1 L804.0 733.7 L805.3 742.0 L806.6 750.0 L807.8 756.7 L809.0 763.3 L810.3 769.7 L811.6 775.9 L812.9 782.1 L814.2 788.0 L815.4 793.0 L816.7 797.9 L817.9 802.6 L819.2 807.2 L820.5 811.9 L821.8 816.6 L823.1 821.4 L824.3 826.2 L825.5 831.0 L826.8 835.8 L828.1 840.5 L829.4 845.0 L830.6 849.0 L831.8 853.1 L833.1 857.0 L834.3 860.8 L835.6 864.5 L837.0 868.0 L838.2 870.8 L839.3 873.5 L840.5 876.1 L841.8 878.6 L843.1 881.0 L844.6 883.2 L846.0 885.0 L847.5 886.7 L849.1 888.3 L850.7 889.8 L852.4 891.3 L854.0 892.7 L855.6 894.0 L857.2 895.2 L858.9 896.4 L860.5 897.6 L862.1 898.9 L863.6 900.3 L865.1 901.9 L866.4 903.6 L867.7 905.3 L869.0 907.2 L870.3 909.1 L871.5 911.0 L872.8 913.2 L874.1 915.6 L875.4 918.0 L876.6 920.4 L877.8 923.0 L879.1 925.6 L880.6 928.9 L882.0 932.4 L883.5 936.0 L885.0 939.6 L886.6 942.8 L888.3 945.7 L889.7 947.5 L891.2 949.1 L892.8 950.5 L894.3 951.9 L895.9 953.3 L897.4 954.8 L898.9 956.7 L900.3 958.7 L901.7 960.8 L903.1 962.8 L904.7 964.5 L906.5 965.8 L908.5 966.5 L910.7 966.9 L913.1 967.0 L915.5 967.0 L917.9 966.8 L920.2 966.7 L922.5 966.6 L924.9 966.5 L927.3 966.2 L929.6 965.9 L931.9 965.5 L933.9 964.9 L935.4 964.2 L936.8 963.2 L938.2 962.1 L939.5 961.1 L940.8 960.5 L942.1 960.3 L943.7 960.9 L945.2 962.3 L946.8 964.0 L948.4 966.0 L950.2 967.9 L952.1 969.4 L954.7 970.9 L957.7 972.3 L960.8 973.6 L964.0 974.8 L967.2 975.8 L970.4 976.7 L973.5 977.3 L976.6 977.7 L979.7 978.0 L982.8 978.2 L985.8 978.4 L988.6 978.6 L990.6 978.9 L992.5 979.2 L994.4 979.6 L996.2 979.8 L998.1 979.8 L1000.0 979.5 L1002.8 978.2 L1005.8 976.1 L1008.8 973.5 L1011.8 971.0 L1014.7 969.2 L1017.3 968.5 L1019.2 969.0 L1020.9 970.2 L1022.6 971.8 L1024.2 973.4 L1025.8 974.6 L1027.4 975.0 L1028.9 974.4 L1030.3 973.1 L1031.7 971.4 L1033.2 969.7 L1034.8 968.3 L1036.5 967.6 L1039.2 968.1 L1042.1 969.8 L1045.3 972.0 L1048.6 974.3 L1051.8 976.0 L1054.8 976.7 L1057.5 976.2 L1060.1 975.1 L1062.7 973.6 L1065.2 971.8 L1067.7 969.8 L1070.0 968.0 L1072.2 966.2 L1074.3 964.3 L1076.3 962.3 L1078.3 960.2 L1080.2 958.1 L1082.0 956.0 L1083.7 954.1 L1085.3 952.1 L1086.8 950.2 L1088.4 948.1 L1089.8 946.1 L1091.3 943.9 L1092.9 941.4 L1094.5 938.7 L1096.0 936.0 L1097.5 933.2 L1099.0 930.3 L1100.4 927.5 L1101.8 924.6 L1103.1 921.6 L1104.4 918.6 L1105.6 915.6 L1106.8 912.7 L1107.7 910.0 L1108.3 908.2 L1108.7 906.5 L1109.1 904.9 L1109.5 903.3 L1109.9 901.5 L1110.4 899.5 L1111.4 895.7 L1112.5 891.3 L1113.8 886.6 L1115.1 881.7 L1116.4 876.8 L1117.7 872.1 L1119.0 867.5 L1120.3 863.0 L1121.7 858.5 L1123.0 853.9 L1124.3 849.4 L1125.5 844.8 L1126.6 840.3 L1127.7 835.7 L1128.6 831.1 L1129.6 826.6 L1130.5 822.0 L1131.4 817.4 L1132.2 812.9 L1133.0 808.4 L1133.8 803.9 L1134.5 799.4 L1135.2 794.7 L1136.0 790.0 L1136.9 784.5 L1137.8 778.8 L1138.7 773.0 L1139.7 767.2 L1140.6 761.4 L1141.4 755.7 L1142.1 750.3 L1142.8 745.0 L1143.5 739.7 L1144.1 734.4 L1144.8 729.1 L1145.6 723.8 L1146.4 718.5 L1147.3 713.1 L1148.3 707.8 L1149.2 702.5 L1150.1 697.2 L1151.0 691.9 L1151.8 686.7 L1152.6 681.6 L1153.4 676.5 L1154.1 671.4 L1154.9 666.3 L1155.7 661.2 L1156.5 656.1 L1157.3 651.1 L1158.2 646.0 L1159.0 640.9 L1159.8 635.9 L1160.6 630.8 L1161.4 625.7 L1162.1 620.7 L1162.8 615.6 L1163.6 610.5 L1164.4 605.5 L1165.2 600.4 L1166.1 595.3 L1167.1 590.2 L1168.2 585.0 L1169.2 579.9 L1170.3 574.9 L1171.3 570.0 L1172.2 565.6 L1173.0 561.3 L1173.8 557.1 L1174.6 552.8 L1175.5 548.6 L1176.5 544.3 L1177.6 539.8 L1178.7 535.2 L1179.9 530.7 L1181.2 526.1 L1182.5 521.5 L1183.8 517.0 L1185.3 512.5 L1186.9 508.0 L1188.5 503.5 L1190.2 499.0 L1191.7 494.3 L1193.0 489.5 L1194.2 483.8 L1195.2 477.8 L1196.0 471.6 L1196.8 465.4 L1197.6 459.2 L1198.4 453.0 L1199.3 446.8 L1200.2 440.6 L1201.2 434.4 L1202.1 428.2 L1203.0 422.2 L1203.9 416.5 L1204.7 411.8 L1205.4 407.3 L1206.2 402.9 L1207.0 398.6 L1207.7 394.3 L1208.3 390.0 L1208.9 385.9 L1209.4 381.7 L1209.8 377.6 L1210.2 373.6 L1210.7 369.5 L1211.1 365.5 L1211.5 361.7 L1211.9 358.0 L1212.2 354.3 L1212.6 350.6 L1213.0 346.8 L1213.4 342.7 L1214.0 337.4 L1214.7 331.8 L1215.5 326.1 L1216.3 320.2 L1217.1 314.3 L1217.9 308.4 L1218.8 302.1 L1219.8 295.5 L1220.9 288.9 L1221.9 282.4 L1222.8 276.5 L1223.7 271.2 L1224.2 268.3 L1224.6 265.6 L1225.0 263.2 L1225.4 260.8 L1225.8 258.4 L1226.3 256.0 L1226.9 253.5 L1227.5 250.9 L1228.1 248.4 L1228.8 245.9 L1229.5 243.3 L1230.1 240.8 L1230.7 238.3 L1231.3 235.7 L1231.8 233.2 L1232.4 230.7 L1233.0 228.1 L1233.6 225.6 L1234.2 223.1 L1234.8 220.5 L1235.5 218.0 L1236.1 215.5 L1236.8 212.9 L1237.4 210.4 L1238.0 207.8 L1238.6 205.3 L1239.1 202.7 L1239.7 200.2 L1240.4 197.6 L1241.2 195.2 L1242.2 192.6 L1243.2 189.8 L1244.4 186.9 L1245.6 184.5 L1246.8 182.6 L1247.9 181.8 L1248.4 181.8 L1249.0 182.0 L1249.5 182.4 L1250.0 182.9 L1250.5 183.5 L1251.0 184.0 L1251.6 184.7 L1252.2 185.4 L1252.7 186.2 L1253.3 187.1 L1253.8 188.1 L1254.3 189.2 L1255.3 191.9 L1256.2 195.2 L1257.0 198.9 L1257.9 202.8 L1258.7 206.8 L1259.6 210.5 L1260.5 214.0 L1261.4 217.5 L1262.2 221.0 L1263.1 224.5 L1264.0 228.1 L1265.0 231.8 L1266.2 236.2 L1267.6 240.8 L1268.9 245.4 L1270.3 250.2 L1271.5 255.0 L1272.6 260.0 L1273.6 265.8 L1274.3 271.8 L1275.0 277.9 L1275.6 284.1 L1276.2 290.4 L1276.9 296.5 L1277.7 302.6 L1278.4 308.7 L1279.2 314.8 L1280.1 320.8 L1280.9 326.9 L1281.8 333.0 L1282.7 339.4 L1283.7 346.3 L1284.7 353.1 L1285.7 359.6 L1286.8 365.2 L1287.9 369.5 L1288.4 370.9 L1289.0 372.0 L1289.6 373.0 L1290.2 373.9 L1290.7 374.8 L1291.2 376.0 L1291.7 377.8 L1292.0 379.8 L1292.2 381.8 L1292.5 384.0 L1292.7 386.1 L1293.0 388.2 L1293.4 390.3 L1293.8 392.3 L1294.2 394.4 L1294.6 396.5 L1295.1 398.5 L1295.5 400.4 L1295.9 402.0 L1296.2 403.6 L1296.5 405.2 L1296.9 406.7 L1297.3 408.1 L1297.9 409.5 L1298.5 410.6 L1299.3 411.6 L1300.0 412.6 L1300.8 413.5 L1301.6 414.5 L1302.2 415.6 L1302.8 417.0 L1303.2 418.5 L1303.6 420.2 L1303.9 421.8 L1304.3 423.3 L1304.6 424.7 L1304.9 425.6 L1305.1 426.5 L1305.4 427.3 L1305.6 428.1 L1305.8 429.0 L1306.1 430.0 L1306.5 431.7 L1306.8 433.6 L1307.2 435.6 L1307.6 437.7 L1308.1 439.6 L1308.7 441.4 L1309.4 442.8 L1310.2 444.0 L1311.2 445.2 L1312.1 446.4 L1312.9 447.6 L1313.7 449.0 L1314.4 450.7 L1315.0 452.5 L1315.6 454.4 L1316.1 456.4 L1316.6 458.4 L1317.1 460.4 L1317.7 462.8 L1318.2 465.3 L1318.6 467.9 L1319.1 470.5 L1319.6 473.0 L1320.2 475.6 L1320.8 478.1 L1321.5 480.7 L1322.2 483.2 L1322.9 485.7 L1323.6 488.3 L1324.3 490.8 L1324.9 493.3 L1325.6 495.9 L1326.2 498.4 L1326.8 501.0 L1327.5 503.5 L1328.1 506.0 L1328.7 508.3 L1329.4 510.5 L1330.0 512.7 L1330.6 514.9 L1331.3 517.3 L1332.0 520.0 L1333.1 524.6 L1334.3 529.7 L1335.6 535.2 L1336.9 540.9 L1338.1 546.5 L1339.4 552.0 L1340.7 557.4 L1342.0 562.9 L1343.3 568.3 L1344.6 573.7 L1345.8 578.9 L1346.9 583.9 L1347.6 587.7 L1348.3 591.3 L1348.8 594.8 L1349.4 598.3 L1349.9 601.7 L1350.6 605.2 L1351.3 608.7 L1352.1 612.3 L1352.9 615.8 L1353.8 619.3 L1354.6 622.9 L1355.4 626.5 L1356.3 630.4 L1357.1 634.3 L1358.0 638.2 L1358.8 642.1 L1359.7 646.1 L1360.4 650.0 L1361.0 654.0 L1361.5 658.1 L1362.0 662.2 L1362.5 666.1 L1363.1 669.7 L1363.9 672.8 L1364.6 674.4 L1365.3 675.7 L1366.1 676.9 L1366.9 678.1 L1367.7 679.4 L1368.4 680.8 L1369.3 682.9 L1370.1 685.2 L1370.9 687.7 L1371.6 690.2 L1372.3 692.9 L1373.0 695.6 L1373.8 699.1 L1374.4 702.8 L1375.1 706.7 L1375.7 710.6 L1376.3 714.5 L1377.0 718.4 L1377.7 722.2 L1378.4 726.0 L1379.1 729.8 L1379.9 733.6 L1380.6 737.4 L1381.5 741.2 L1382.5 745.0 L1383.5 748.8 L1384.6 752.6 L1385.7 756.4 L1386.8 760.2 L1387.8 764.0 L1388.8 767.9 L1389.7 771.8 L1390.7 775.8 L1391.6 779.7 L1392.5 783.4 L1393.5 786.8 L1394.2 789.2 L1394.9 791.5 L1395.6 793.7 L1396.4 795.8 L1397.2 797.9 L1398.1 800.0 L1399.1 801.9 L1400.2 803.8 L1401.4 805.6 L1402.6 807.4 L1403.8 809.4 L1404.9 811.5 L1406.4 814.7 L1407.9 818.3 L1409.3 822.0 L1410.8 825.8 L1412.1 829.5 L1413.4 832.8 L1414.3 835.2 L1415.2 837.4 L1416.0 839.5 L1416.8 841.6 L1417.7 843.8 L1418.5 846.0 L1419.5 848.5 L1420.4 851.1 L1421.4 853.8 L1422.4 856.4 L1423.3 859.1 L1424.3 861.9 L1425.3 865.1 L1426.3 868.4 L1427.2 871.9 L1428.3 875.2 L1429.4 878.3 L1430.7 881.1 L1431.9 883.0 L1433.2 884.6 L1434.6 886.1 L1436.0 887.6 L1437.4 889.1 L1438.7 890.7 L1440.1 892.5 L1441.4 894.3 L1442.7 896.1 L1444.0 898.0 L1445.3 899.9 L1446.6 901.9 L1448.0 904.2 L1449.3 906.6 L1450.5 909.0 L1451.8 911.5 L1453.2 913.9 L1454.6 916.2 L1456.1 918.5 L1457.6 920.7 L1459.2 922.9 L1460.8 925.1 L1462.5 927.1 L1464.2 929.0 L1465.7 930.5 L1467.3 932.0 L1469.0 933.4 L1470.6 934.6 L1472.2 935.9 L1473.8 937.0 L1475.2 937.9 L1476.6 938.6 L1478.0 939.3 L1479.3 940.0 L1480.6 940.8 L1481.8 941.8 L1483.1 943.3 L1484.2 945.1 L1485.2 947.0 L1486.2 949.0 L1487.2 951.1 L1488.2 953.0 L1489.2 955.0 L1490.2 957.2 L1491.2 959.4 L1492.2 961.4 L1493.4 963.0 L1494.6 964.1 L1495.6 964.4 L1496.6 964.4 L1497.7 964.1 L1498.8 963.9 L1499.9 963.8 L1500.9 964.1 L1502.3 965.3 L1503.6 967.1 L1505.0 969.3 L1506.3 971.4 L1507.6 973.0 L1508.9 973.7 L1510.0 973.4 L1511.1 972.5 L1512.2 971.2 L1513.3 970.0 L1514.3 969.1 L1515.3 968.9 L1516.5 969.8 L1517.5 971.6 L1518.4 974.0 L1519.4 976.7 L1520.4 979.3 L1521.7 981.7 L1523.4 984.3 L1525.3 987.2 L1527.3 990.1 L1529.4 992.7 L1531.6 994.6 L1533.7 995.5 L1535.6 995.2 L1537.5 994.0 L1539.5 992.3 L1541.4 990.6 L1543.3 989.2 L1545.1 988.7 L1546.5 989.1 L1547.7 989.9 L1549.0 991.1 L1550.2 992.2 L1551.5 993.0 L1552.7 993.2 L1554.2 992.4 L1555.7 990.7 L1557.1 988.6 L1558.6 986.5 L1560.2 984.8 L1561.8 984.1 L1563.6 984.6 L1565.4 986.0 L1567.3 987.9 L1569.2 989.9 L1571.2 991.6 L1573.2 992.5 L1575.1 992.8 L1577.1 992.9 L1579.1 992.7 L1581.1 992.2 L1582.9 991.4 L1584.6 990.2 L1586.9 986.3 L1588.7 980.0 L1590.2 972.8 L1591.4 966.0 L1592.6 961.0 L1593.8 959.0 L1594.6 959.7 L1595.4 961.7 L1596.1 964.6 L1596.8 967.8 L1597.5 971.2 L1598.3 974.2 L1599.3 977.7 L1600.2 981.5 L1601.1 985.4 L1602.2 989.1 L1603.5 992.3 L1605.2 994.8 L1606.6 996.0 L1608.3 996.9 L1610.0 997.6 L1611.8 998.1 L1613.5 998.7 L1615.1 999.3 L1616.3 1000.0 L1617.4 1000.7 L1618.5 1001.5 L1619.6 1002.1 L1620.7 1002.7 L1622.0 1003.0 L1623.8 1002.9 L1625.9 1002.3 L1628.1 1001.5 L1630.2 1000.8 L1632.3 1000.3 L1634.2 1000.4 L1635.8 1001.2 L1637.3 1002.6 L1638.7 1004.3 L1640.1 1006.0 L1641.5 1007.3 L1643.0 1008.0 L1644.5 1007.9 L1646.1 1007.2 L1647.8 1006.2 L1649.4 1005.3 L1651.1 1004.6 L1652.7 1004.5 L1654.6 1005.5 L1656.4 1007.4 L1658.3 1009.7 L1660.1 1011.9 L1661.9 1013.6 L1663.7 1014.1 L1665.8 1012.8 L1667.9 1010.0 L1669.9 1006.4 L1671.9 1002.9 L1673.7 1000.1 L1675.3 999.0 L1676.2 999.3 L1677.1 1000.2 L1678.0 1001.4 L1678.7 1002.5 L1679.2 1003.4 L1679.4 1003.8" stroke="#008080"/>
<path d="M338.0 1010.0 L338.4 1010.0 L339.5 1010.0 L341.1 1009.9 L342.8 1009.9 L344.6 1009.7 L346.0 1009.5 L347.0 1009.2 L348.0 1008.8 L348.9 1008.3 L349.9 1007.9 L350.9 1007.5 L352.0 1007.3 L353.9 1007.4 L356.0 1007.8 L358.2 1008.4 L360.5 1009.0 L362.8 1009.4 L365.0 1009.5 L367.2 1009.0 L369.4 1008.2 L371.6 1007.1 L373.8 1006.1 L375.9 1005.4 L378.0 1005.3 L379.9 1005.8 L381.7 1006.7 L383.5 1008.0 L385.3 1009.4 L387.1 1010.7 L389.0 1012.0 L391.3 1013.2 L393.7 1014.4 L396.1 1015.7 L398.6 1016.9 L400.9 1018.3 L403.0 1019.7 L404.7 1021.1 L406.3 1022.6 L407.7 1024.1 L409.2 1025.7 L410.6 1027.3 L412.0 1029.0 L413.6 1031.0 L415.2 1033.2 L416.8 1035.4 L418.3 1037.7 L419.9 1039.9 L421.5 1042.0 L423.1 1043.9 L424.7 1045.7 L426.3 1047.5 L427.9 1049.2 L429.5 1051.1 L431.0 1053.0 L432.5 1055.3 L434.0 1057.8 L435.4 1060.3 L436.8 1062.8 L438.3 1065.1 L440.0 1067.0 L441.5 1068.3 L443.0 1069.5 L444.5 1070.6 L446.2 1071.5 L447.8 1072.2 L449.4 1072.6 L450.9 1072.7 L452.5 1072.6 L454.0 1072.3 L455.6 1071.9 L457.1 1071.3 L458.6 1070.7 L460.3 1069.9 L462.0 1069.0 L463.6 1067.9 L465.2 1066.7 L466.7 1065.4 L468.0 1064.0 L469.0 1062.5 L469.7 1060.8 L470.3 1059.0 L470.9 1057.2 L471.6 1055.5 L472.6 1054.0 L473.9 1052.7 L475.4 1051.5 L477.1 1050.5 L478.8 1049.5 L480.4 1048.5 L482.0 1047.5 L483.3 1046.5 L484.6 1045.5 L485.8 1044.4 L487.1 1043.4 L488.5 1042.5 L490.0 1041.7 L492.1 1040.9 L494.4 1040.4 L496.8 1039.9 L499.2 1039.5 L501.7 1038.8 L504.0 1038.0 L506.4 1036.7 L508.7 1035.1 L511.0 1033.4 L513.3 1031.7 L515.6 1030.1 L518.0 1028.7 L520.3 1027.7 L522.6 1026.8 L525.0 1026.1 L527.3 1025.4 L529.7 1024.7 L532.0 1024.0 L534.3 1023.2 L536.6 1022.5 L538.9 1021.8 L541.1 1021.0 L543.4 1020.3 L545.7 1019.4 L548.1 1018.4 L550.5 1017.3 L552.9 1016.2 L555.2 1015.0 L557.6 1014.0 L560.0 1013.0 L562.3 1012.1 L564.6 1011.1 L566.9 1010.2 L569.2 1009.4 L571.4 1009.0 L573.5 1009.0 L575.2 1009.5 L576.7 1010.4 L578.1 1011.6 L579.6 1012.8 L581.2 1013.9 L583.0 1014.8 L585.6 1015.6 L588.5 1016.3 L591.6 1016.8 L594.9 1017.2 L598.1 1017.4 L601.4 1017.5 L605.2 1017.4 L609.2 1017.2 L613.3 1016.7 L617.3 1016.0 L621.1 1015.1 L624.6 1014.0 L627.3 1012.8 L629.9 1011.3 L632.4 1009.6 L634.7 1007.8 L636.7 1006.1 L638.5 1004.5 L639.5 1003.5 L640.4 1002.4 L641.2 1001.4 L641.9 1000.3 L642.6 999.3 L643.4 998.4 L644.1 997.6 L644.9 996.8 L645.6 996.0 L646.4 995.3 L647.1 994.6 L648.0 994.0 L648.9 993.5 L649.9 993.0 L650.8 992.6 L651.9 992.3 L652.9 992.1 L654.0 992.0 L655.3 992.2 L656.8 992.6 L658.2 993.3 L659.7 994.0 L661.1 994.7 L662.6 995.2 L664.0 995.7 L665.4 996.3 L666.9 996.9 L668.3 997.4 L669.7 997.6 L671.0 997.4 L672.5 996.6 L674.0 995.1 L675.3 993.3 L676.7 991.3 L678.1 989.4 L679.6 987.8 L681.1 986.6 L682.8 985.5 L684.5 984.5 L686.1 983.4 L687.5 982.2 L688.8 980.8 L689.8 979.0 L690.6 977.1 L691.3 975.0 L691.8 972.8 L692.4 970.6 L693.0 968.5 L693.6 966.5 L694.2 964.6 L694.8 962.8 L695.4 960.8 L696.0 958.7 L696.7 956.5 L697.8 952.9 L699.1 949.0 L700.5 944.9 L701.8 940.6 L703.0 936.4 L704.0 932.2 L704.7 928.2 L705.3 924.2 L705.8 920.3 L706.2 916.3 L706.6 912.4 L707.1 908.5 L707.6 905.0 L708.1 901.5 L708.5 898.1 L709.0 894.7 L709.5 891.3 L709.9 887.9 L710.3 884.5 L710.7 881.2 L711.1 877.9 L711.5 874.5 L711.9 871.1 L712.3 867.4 L712.9 862.7 L713.5 857.7 L714.1 852.6 L714.7 847.4 L715.3 842.2 L715.9 836.9 L716.4 831.3 L716.8 825.6 L717.1 819.9 L717.6 814.2 L718.0 808.4 L718.7 802.7 L719.5 796.7 L720.4 790.4 L721.5 784.0 L722.6 778.1 L723.7 772.7 L725.0 768.4 L725.7 766.7 L726.4 765.3 L727.2 764.1 L727.9 762.9 L728.7 761.6 L729.4 760.0 L730.3 756.8 L731.1 752.7 L731.9 748.4 L732.7 744.4 L733.8 741.1 L735.2 739.0 L736.2 738.5 L737.3 738.2 L738.5 738.2 L739.7 738.4 L740.8 738.7 L741.9 739.0 L742.9 739.5 L743.8 740.3 L744.7 741.2 L745.6 742.0 L746.4 742.5 L747.0 742.5 L747.7 741.6 L748.0 739.9 L748.2 737.6 L748.3 735.1 L748.4 732.4 L748.7 730.0 L749.1 727.4 L749.6 724.7 L750.2 722.0 L750.7 719.2 L751.2 716.4 L751.7 713.6 L752.1 710.5 L752.5 707.3 L752.8 704.0 L753.1 700.8 L753.5 697.7 L754.0 694.6 L754.5 691.9 L755.0 689.1 L755.6 686.5 L756.3 683.9 L757.0 681.5 L757.8 679.4 L758.5 678.1 L759.3 677.0 L760.1 675.9 L760.9 674.9 L761.7 673.8 L762.4 672.6 L763.0 670.9 L763.4 668.8 L763.7 666.7 L764.1 664.7 L764.6 663.1 L765.4 661.9 L766.3 661.5 L767.3 661.3 L768.4 661.4 L769.5 661.4 L770.6 661.4 L771.5 661.2 L772.2 660.8 L772.8 660.4 L773.3 659.9 L773.9 659.3 L774.4 658.7 L775.0 658.1 L775.9 657.2 L776.8 656.3 L777.7 655.3 L778.6 654.2 L779.5 653.1 L780.4 652.0 L781.3 650.6 L782.1 649.0 L782.9 647.4 L783.8 645.9 L784.6 644.9 L785.4 644.6 L786.5 645.3 L787.7 647.1 L788.8 649.7 L790.0 652.7 L791.0 655.8 L792.0 658.8 L793.1 662.5 L793.9 666.4 L794.7 670.5 L795.5 674.8 L796.2 679.3 L797.0 684.0 L798.1 690.4 L799.3 697.4 L800.5 704.6 L801.7 711.9 L802.8 719.0 L803.8 725.7 L804.6 731.0 L805.2 736.1 L805.8 741.1 L806.5 746.0 L807.2 750.6 L808.0 755.0 L808.7 758.2 L809.5 761.2 L810.4 764.1 L811.2 767.0 L812.1 769.9 L813.0 773.0 L814.1 776.9 L815.1 780.9 L816.3 785.0 L817.4 789.1 L818.6 793.4 L819.9 797.6 L821.4 802.3 L822.9 807.2 L824.5 812.1 L826.2 816.9 L827.8 821.6 L829.4 826.0 L830.7 829.5 L832.0 832.8 L833.2 836.1 L834.5 839.2 L835.8 842.2 L837.0 845.0 L837.9 847.1 L838.8 849.1 L839.7 851.0 L840.6 852.8 L841.6 854.7 L842.7 856.5 L844.1 858.5 L845.7 860.4 L847.4 862.3 L849.2 864.1 L850.8 866.0 L852.2 868.0 L853.3 869.9 L854.2 872.0 L855.0 874.1 L855.9 876.1 L856.8 877.9 L858.0 879.4 L859.1 880.3 L860.4 880.9 L861.7 881.4 L863.0 881.8 L864.3 882.4 L865.5 883.2 L866.9 884.4 L868.2 885.8 L869.5 887.4 L870.7 889.0 L871.9 890.8 L873.0 892.7 L874.2 895.2 L875.3 898.1 L876.3 901.1 L877.3 904.1 L878.3 907.1 L879.5 910.0 L880.8 912.7 L882.3 915.3 L883.8 917.8 L885.3 920.3 L886.8 922.9 L888.3 925.6 L889.8 928.6 L891.3 931.7 L892.8 934.8 L894.3 938.0 L895.8 941.0 L897.4 943.9 L898.8 946.4 L900.2 949.0 L901.6 951.5 L903.1 953.8 L904.7 955.9 L906.5 957.6 L908.2 958.8 L909.9 959.8 L911.8 960.7 L913.7 961.3 L915.6 961.8 L917.5 962.1 L919.4 962.1 L921.5 961.8 L923.5 961.3 L925.5 960.8 L927.5 960.4 L929.3 960.3 L930.8 960.5 L932.2 960.8 L933.6 961.3 L935.0 961.7 L936.3 962.0 L937.5 962.1 L938.5 961.9 L939.4 961.6 L940.2 961.2 L941.1 960.8 L942.0 960.5 L943.0 960.3 L944.4 960.3 L945.9 960.5 L947.4 960.8 L949.0 961.1 L950.6 961.6 L952.1 962.1 L953.6 962.7 L955.1 963.4 L956.5 964.1 L958.0 964.9 L959.6 965.8 L961.3 966.7 L964.0 968.1 L967.0 969.8 L970.1 971.5 L973.3 973.2 L976.5 974.7 L979.5 975.8 L981.9 976.5 L984.3 977.0 L986.7 977.3 L989.0 977.5 L991.2 977.7 L993.2 977.7 L994.5 977.7 L995.6 977.6 L996.7 977.6 L997.8 977.4 L998.9 977.1 L1000.0 976.7 L1001.5 976.0 L1003.0 975.1 L1004.6 974.0 L1006.1 972.7 L1007.6 971.4 L1009.0 970.0 L1010.5 967.9 L1011.9 965.3 L1013.2 962.6 L1014.5 960.1 L1015.9 958.3 L1017.3 957.6 L1018.9 958.5 L1020.6 960.9 L1022.4 964.0 L1024.1 967.1 L1025.8 969.5 L1027.4 970.4 L1028.8 969.4 L1030.2 967.1 L1031.5 964.1 L1032.8 961.0 L1034.1 958.7 L1035.6 957.6 L1037.1 958.2 L1038.7 959.8 L1040.4 962.1 L1042.1 964.5 L1043.8 966.5 L1045.6 967.6 L1047.1 967.9 L1048.6 967.8 L1050.1 967.6 L1051.7 967.1 L1053.2 966.5 L1054.8 965.8 L1056.8 964.5 L1058.9 962.7 L1060.9 960.7 L1063.0 958.7 L1065.2 957.0 L1067.5 955.8 L1069.9 955.4 L1072.4 955.5 L1075.0 955.9 L1077.5 956.2 L1079.9 956.3 L1082.1 955.8 L1083.9 954.7 L1085.6 953.4 L1087.1 951.7 L1088.5 949.8 L1089.9 947.8 L1091.3 945.7 L1093.0 942.8 L1094.5 939.5 L1096.0 936.0 L1097.4 932.4 L1098.9 928.9 L1100.4 925.6 L1101.9 922.8 L1103.6 920.1 L1105.3 917.5 L1106.9 914.9 L1108.3 912.4 L1109.5 910.0 L1110.1 908.2 L1110.6 906.6 L1110.9 905.0 L1111.3 903.3 L1111.7 901.5 L1112.2 899.5 L1113.4 895.7 L1114.8 891.3 L1116.4 886.6 L1118.1 881.7 L1119.8 876.8 L1121.4 872.1 L1122.9 867.6 L1124.5 863.0 L1126.1 858.5 L1127.6 853.9 L1129.1 849.4 L1130.5 844.8 L1131.9 840.3 L1133.2 835.7 L1134.5 831.1 L1135.7 826.6 L1136.8 822.0 L1137.8 817.4 L1138.7 812.9 L1139.4 808.4 L1140.0 803.9 L1140.6 799.4 L1141.2 794.7 L1141.9 790.0 L1142.7 784.5 L1143.5 778.8 L1144.3 773.0 L1145.2 767.2 L1146.2 761.4 L1147.2 755.7 L1148.3 750.3 L1149.6 745.0 L1150.9 739.7 L1152.2 734.4 L1153.5 729.1 L1154.7 723.8 L1155.8 718.5 L1156.8 713.2 L1157.7 707.8 L1158.6 702.5 L1159.6 697.2 L1160.5 691.9 L1161.4 686.7 L1162.3 681.6 L1163.2 676.5 L1164.1 671.4 L1165.0 666.3 L1166.0 661.2 L1167.1 656.1 L1168.2 651.1 L1169.4 646.0 L1170.6 640.9 L1171.7 635.9 L1172.8 630.8 L1173.8 625.7 L1174.7 620.7 L1175.5 615.6 L1176.4 610.5 L1177.2 605.5 L1178.1 600.4 L1179.0 595.2 L1180.0 589.9 L1181.0 584.6 L1181.9 579.5 L1182.9 574.5 L1183.8 570.0 L1184.4 567.0 L1185.1 564.3 L1185.7 561.8 L1186.3 559.2 L1186.9 556.5 L1187.5 553.4 L1188.4 548.2 L1189.3 542.3 L1190.3 536.1 L1191.2 529.7 L1192.1 523.2 L1193.0 517.0 L1193.9 511.0 L1194.8 505.0 L1195.6 499.0 L1196.5 492.9 L1197.4 486.7 L1198.4 480.4 L1199.6 473.1 L1200.8 465.6 L1202.1 457.9 L1203.4 450.2 L1204.6 442.4 L1205.7 434.8 L1206.7 427.2 L1207.7 419.3 L1208.6 411.5 L1209.5 403.9 L1210.3 396.7 L1211.1 390.0 L1211.6 385.5 L1212.1 381.3 L1212.6 377.2 L1213.1 373.3 L1213.5 369.4 L1214.0 365.5 L1214.5 361.7 L1214.9 358.0 L1215.3 354.3 L1215.8 350.6 L1216.3 346.8 L1216.8 342.7 L1217.5 337.4 L1218.3 331.8 L1219.1 326.1 L1220.0 320.2 L1220.9 314.3 L1221.9 308.4 L1223.0 302.1 L1224.2 295.5 L1225.5 288.9 L1226.8 282.4 L1228.0 276.5 L1229.0 271.2 L1229.6 268.3 L1230.1 265.6 L1230.5 263.2 L1231.0 260.8 L1231.5 258.5 L1232.0 256.0 L1232.6 253.5 L1233.2 250.9 L1233.8 248.4 L1234.4 245.9 L1235.1 243.3 L1235.8 240.8 L1236.5 238.2 L1237.3 235.6 L1238.0 233.0 L1238.8 230.5 L1239.6 228.0 L1240.4 225.6 L1241.1 223.5 L1241.9 221.5 L1242.7 219.5 L1243.5 217.6 L1244.3 215.8 L1245.0 214.2 L1245.4 213.2 L1245.8 212.1 L1246.1 211.2 L1246.5 210.3 L1247.0 209.6 L1247.5 209.0 L1248.0 208.7 L1248.6 208.5 L1249.2 208.3 L1249.9 208.3 L1250.5 208.3 L1251.1 208.4 L1251.7 208.6 L1252.3 209.0 L1252.9 209.4 L1253.4 209.9 L1254.0 210.4 L1254.5 211.0 L1255.1 211.6 L1255.6 212.3 L1256.1 213.1 L1256.5 213.9 L1257.0 214.8 L1257.5 215.8 L1258.4 217.9 L1259.3 220.3 L1260.2 223.0 L1261.1 225.9 L1261.9 228.9 L1262.8 231.8 L1263.7 235.3 L1264.6 239.1 L1265.5 243.0 L1266.4 246.8 L1267.3 250.2 L1268.2 253.1 L1268.7 254.4 L1269.3 255.5 L1269.8 256.4 L1270.3 257.4 L1270.9 258.6 L1271.4 260.0 L1272.6 264.4 L1273.7 270.0 L1274.8 276.4 L1275.9 283.2 L1277.0 290.1 L1278.1 296.5 L1279.1 302.6 L1280.1 308.7 L1281.1 314.7 L1282.0 320.8 L1283.1 326.9 L1284.2 333.0 L1285.5 339.4 L1286.8 346.1 L1288.2 352.8 L1289.7 359.2 L1291.1 365.0 L1292.4 370.0 L1293.1 372.4 L1293.8 374.6 L1294.5 376.6 L1295.2 378.4 L1295.9 380.3 L1296.7 382.2 L1297.6 384.2 L1298.7 386.2 L1299.8 388.2 L1300.9 390.2 L1301.9 392.3 L1302.8 394.3 L1303.5 396.3 L1304.2 398.3 L1304.7 400.4 L1305.3 402.4 L1305.8 404.5 L1306.4 406.5 L1307.0 408.5 L1307.5 410.6 L1308.1 412.7 L1308.7 414.7 L1309.4 416.7 L1310.1 418.7 L1311.0 420.6 L1312.0 422.4 L1313.0 424.1 L1314.1 425.9 L1315.1 427.9 L1316.0 430.0 L1317.1 433.3 L1318.1 437.0 L1319.0 440.9 L1319.9 444.9 L1320.8 448.9 L1321.7 452.8 L1322.7 456.6 L1323.6 460.4 L1324.6 464.2 L1325.6 468.0 L1326.5 471.8 L1327.4 475.6 L1328.3 479.4 L1329.1 483.2 L1329.9 487.0 L1330.6 490.8 L1331.4 494.6 L1332.3 498.4 L1333.2 502.0 L1334.1 505.5 L1335.0 509.0 L1335.9 512.5 L1336.9 516.2 L1337.8 520.0 L1338.9 525.0 L1340.1 530.2 L1341.3 535.6 L1342.4 541.1 L1343.6 546.6 L1344.7 552.0 L1345.8 557.4 L1346.9 562.9 L1347.9 568.4 L1349.0 573.8 L1350.0 579.0 L1351.1 583.9 L1352.0 587.7 L1352.8 591.3 L1353.7 594.8 L1354.6 598.3 L1355.5 601.7 L1356.4 605.2 L1357.4 608.8 L1358.6 612.4 L1359.7 616.0 L1360.8 619.6 L1361.9 623.1 L1362.8 626.5 L1363.5 629.4 L1364.1 632.2 L1364.6 635.0 L1365.1 637.7 L1365.6 640.2 L1366.0 642.5 L1366.2 643.9 L1366.4 645.3 L1366.5 646.5 L1366.7 647.7 L1367.0 648.9 L1367.3 650.0 L1367.8 651.0 L1368.3 651.8 L1368.9 652.6 L1369.5 653.5 L1370.1 654.5 L1370.7 655.7 L1371.7 659.1 L1372.6 663.4 L1373.4 668.4 L1374.2 673.7 L1375.0 679.0 L1375.8 684.2 L1376.7 689.8 L1377.4 695.6 L1378.2 701.6 L1379.0 707.4 L1379.9 713.1 L1381.0 718.4 L1382.0 722.5 L1383.1 726.4 L1384.3 730.1 L1385.4 733.8 L1386.6 737.5 L1387.8 741.2 L1388.9 745.1 L1390.1 749.1 L1391.3 753.1 L1392.4 757.0 L1393.5 760.7 L1394.6 764.0 L1395.3 766.1 L1395.9 768.0 L1396.5 769.8 L1397.1 771.5 L1397.8 773.4 L1398.6 775.4 L1400.0 778.6 L1401.7 782.0 L1403.6 785.7 L1405.5 789.4 L1407.4 793.0 L1409.1 796.6 L1410.7 799.9 L1412.2 803.1 L1413.8 806.3 L1415.2 809.5 L1416.5 812.7 L1417.7 815.7 L1418.5 818.2 L1419.2 820.5 L1419.7 822.8 L1420.3 825.1 L1420.8 827.5 L1421.5 830.0 L1422.4 833.0 L1423.3 836.2 L1424.3 839.4 L1425.3 842.7 L1426.4 845.9 L1427.5 849.2 L1428.7 852.8 L1429.9 856.6 L1431.1 860.4 L1432.4 864.0 L1433.9 867.2 L1435.5 869.9 L1436.7 871.3 L1438.1 872.3 L1439.5 873.2 L1440.9 874.1 L1442.3 875.0 L1443.5 876.3 L1444.8 878.3 L1445.8 880.6 L1446.8 883.1 L1447.7 885.7 L1448.7 888.2 L1449.8 890.7 L1451.0 893.1 L1452.4 895.5 L1453.7 897.9 L1455.1 900.2 L1456.4 902.6 L1457.8 905.0 L1459.1 907.5 L1460.4 910.0 L1461.7 912.5 L1463.0 915.0 L1464.4 917.3 L1465.8 919.4 L1467.1 920.9 L1468.4 922.3 L1469.7 923.6 L1471.1 924.9 L1472.5 926.1 L1473.8 927.4 L1475.1 928.7 L1476.5 930.1 L1477.8 931.5 L1479.1 932.8 L1480.4 934.1 L1481.8 935.4 L1483.2 936.5 L1484.6 937.5 L1486.0 938.4 L1487.4 939.4 L1488.7 940.5 L1489.8 941.8 L1490.8 943.7 L1491.6 945.8 L1492.2 948.1 L1492.8 950.5 L1493.6 952.6 L1494.6 954.5 L1495.7 955.8 L1497.0 956.9 L1498.4 957.9 L1499.9 958.8 L1501.2 959.8 L1502.5 960.9 L1503.6 962.3 L1504.7 963.9 L1505.7 965.6 L1506.7 967.1 L1507.7 968.3 L1508.9 968.9 L1510.0 968.8 L1511.3 968.1 L1512.6 967.2 L1513.8 966.3 L1515.0 965.7 L1516.1 965.7 L1517.2 966.7 L1518.1 968.6 L1518.8 971.1 L1519.5 973.7 L1520.5 976.3 L1521.7 978.5 L1523.5 980.8 L1525.7 983.3 L1528.2 985.7 L1530.6 987.7 L1533.0 989.0 L1535.2 989.4 L1537.0 988.4 L1538.8 986.1 L1540.4 983.1 L1542.0 980.3 L1543.6 978.1 L1545.1 977.3 L1546.5 978.2 L1547.7 980.3 L1549.0 983.0 L1550.2 985.7 L1551.4 987.8 L1552.7 988.7 L1554.1 987.9 L1555.4 985.8 L1556.8 983.1 L1558.3 980.3 L1559.7 978.2 L1561.1 977.3 L1562.4 978.0 L1563.8 979.8 L1565.1 982.1 L1566.5 984.5 L1567.9 986.3 L1569.4 987.1 L1571.3 986.4 L1573.4 984.4 L1575.6 981.8 L1577.7 979.1 L1579.8 976.8 L1581.6 975.7 L1582.6 975.7 L1583.5 976.1 L1584.4 976.6 L1585.2 977.1 L1586.1 977.4 L1586.9 977.3 L1588.2 975.8 L1589.5 973.0 L1590.6 969.5 L1591.7 966.2 L1592.8 963.7 L1593.8 962.8 L1594.9 964.3 L1595.8 968.0 L1596.7 973.1 L1597.6 978.7 L1598.6 983.9 L1599.8 988.0 L1600.8 990.1 L1601.8 991.9 L1602.9 993.6 L1604.1 995.2 L1605.4 996.7 L1606.8 998.3 L1608.8 1000.5 L1611.0 1003.0 L1613.4 1005.5 L1615.9 1007.6 L1618.3 1009.0 L1620.5 1009.3 L1622.9 1007.4 L1625.2 1003.2 L1627.4 997.9 L1629.6 992.8 L1631.6 988.9 L1633.5 987.4 L1635.1 988.8 L1636.5 992.3 L1637.9 996.8 L1639.3 1001.3 L1640.7 1004.9 L1642.4 1006.5 L1644.0 1005.9 L1645.6 1004.1 L1647.3 1001.6 L1649.1 999.1 L1650.9 997.1 L1652.7 996.3 L1654.5 997.0 L1656.4 998.9 L1658.3 1001.3 L1660.2 1003.7 L1662.0 1005.4 L1663.7 1005.9 L1665.8 1004.0 L1667.7 999.9 L1669.6 994.7 L1671.4 989.6 L1673.0 985.6 L1674.6 984.0 L1675.6 984.5 L1676.7 985.9 L1677.7 987.7 L1678.6 989.5 L1679.2 990.9 L1679.4 991.5" stroke="#ff00ff"/>
<path d="M338.0 1010.9 L338.9 1011.0 L341.4 1011.1 L344.9 1011.4 L348.9 1011.6 L353.0 1011.8 L356.6 1011.8 L360.2 1011.5 L364.0 1011.0 L367.8 1010.3 L371.5 1009.9 L374.9 1009.8 L378.0 1010.4 L380.2 1011.5 L382.0 1013.1 L383.7 1015.0 L385.4 1017.0 L387.1 1019.0 L389.0 1020.6 L391.2 1022.0 L393.6 1023.2 L396.1 1024.4 L398.5 1025.5 L400.9 1026.7 L403.0 1028.0 L404.7 1029.2 L406.2 1030.3 L407.7 1031.5 L409.2 1032.8 L410.6 1034.1 L412.0 1035.5 L413.6 1037.3 L415.3 1039.2 L416.8 1041.1 L418.4 1043.2 L420.0 1045.3 L421.5 1047.5 L423.1 1049.9 L424.7 1052.5 L426.3 1055.1 L427.9 1057.8 L429.4 1060.4 L431.0 1063.0 L432.5 1065.5 L434.0 1068.0 L435.5 1070.5 L437.0 1072.9 L438.5 1075.1 L440.0 1077.0 L441.1 1078.3 L442.3 1079.4 L443.4 1080.5 L444.6 1081.4 L445.8 1082.3 L447.0 1083.0 L448.1 1083.6 L449.3 1084.0 L450.5 1084.4 L451.7 1084.7 L452.9 1084.9 L454.0 1085.0 L455.0 1085.0 L456.1 1085.0 L457.1 1084.9 L458.1 1084.7 L459.1 1084.4 L460.0 1084.0 L460.9 1083.4 L461.8 1082.8 L462.6 1082.0 L463.4 1081.1 L464.2 1080.1 L465.0 1079.0 L466.2 1076.8 L467.4 1074.1 L468.5 1071.0 L469.7 1068.0 L471.1 1065.2 L472.6 1063.0 L474.0 1061.7 L475.5 1060.6 L477.1 1059.7 L478.8 1058.8 L480.4 1058.0 L482.0 1057.0 L483.5 1055.8 L484.9 1054.6 L486.4 1053.3 L487.8 1052.1 L489.3 1051.0 L491.0 1050.0 L493.0 1049.2 L495.1 1048.7 L497.4 1048.3 L499.6 1047.8 L501.9 1047.2 L504.0 1046.3 L506.4 1044.7 L508.7 1042.6 L511.0 1040.3 L513.3 1037.9 L515.6 1035.8 L518.0 1034.0 L520.3 1032.9 L522.6 1032.0 L525.0 1031.3 L527.4 1030.6 L529.7 1029.8 L532.0 1028.7 L534.3 1027.2 L536.5 1025.5 L538.7 1023.6 L540.9 1021.7 L543.2 1020.0 L545.7 1018.5 L548.8 1017.1 L552.2 1015.7 L555.7 1014.5 L559.2 1013.6 L562.7 1013.1 L566.0 1013.0 L569.1 1013.7 L572.2 1015.1 L575.3 1016.9 L578.2 1018.6 L580.8 1019.9 L583.0 1020.3 L584.0 1020.1 L584.8 1019.6 L585.6 1018.9 L586.3 1018.3 L587.1 1017.7 L588.0 1017.5 L589.6 1017.8 L591.5 1018.5 L593.4 1019.6 L595.5 1020.7 L597.5 1021.6 L599.5 1022.0 L601.3 1021.8 L603.1 1021.3 L605.0 1020.6 L606.8 1019.8 L608.7 1019.0 L610.6 1018.5 L612.8 1018.3 L615.2 1018.2 L617.6 1018.3 L620.0 1018.3 L622.3 1018.1 L624.6 1017.5 L627.0 1016.3 L629.4 1014.6 L631.7 1012.7 L634.0 1010.7 L636.2 1008.8 L638.5 1007.3 L640.4 1006.2 L642.4 1005.3 L644.3 1004.4 L646.3 1003.7 L648.1 1003.0 L650.0 1002.5 L651.5 1002.1 L653.0 1001.9 L654.5 1001.6 L656.0 1001.5 L657.5 1001.5 L659.0 1001.5 L660.6 1001.7 L662.2 1002.2 L663.7 1002.7 L665.3 1003.2 L666.9 1003.5 L668.5 1003.4 L670.4 1002.9 L672.2 1002.0 L674.1 1000.8 L675.9 999.4 L677.8 997.9 L679.6 996.3 L681.9 994.1 L684.4 991.7 L686.8 989.0 L689.1 986.2 L691.1 983.5 L692.8 980.8 L693.8 978.7 L694.7 976.7 L695.3 974.6 L695.9 972.6 L696.4 970.5 L697.0 968.5 L697.6 966.5 L698.1 964.7 L698.6 962.8 L699.1 960.8 L699.6 958.7 L700.2 956.5 L701.2 952.9 L702.3 949.0 L703.5 944.9 L704.7 940.6 L705.9 936.3 L706.9 932.2 L707.8 928.2 L708.5 924.2 L709.3 920.2 L709.9 916.3 L710.6 912.4 L711.2 908.5 L711.8 905.0 L712.3 901.5 L712.7 898.1 L713.2 894.7 L713.7 891.3 L714.1 887.9 L714.5 884.5 L714.9 881.1 L715.2 877.6 L715.6 874.2 L716.0 870.8 L716.5 867.4 L717.1 864.0 L717.7 860.7 L718.3 857.3 L719.0 854.0 L719.7 850.5 L720.3 846.8 L721.0 842.1 L721.7 837.0 L722.3 831.8 L723.0 826.6 L723.7 821.6 L724.6 817.0 L725.4 813.5 L726.2 810.2 L727.0 807.0 L727.9 803.9 L728.9 800.9 L730.0 798.0 L731.0 795.5 L732.2 792.9 L733.4 790.5 L734.6 788.2 L735.8 786.3 L737.0 784.7 L737.7 784.1 L738.3 783.6 L739.0 783.2 L739.7 782.9 L740.4 782.5 L741.0 782.0 L741.7 781.3 L742.4 780.6 L743.1 779.9 L743.8 779.0 L744.4 778.1 L745.0 777.0 L745.9 775.1 L746.7 772.9 L747.5 770.4 L748.2 767.8 L748.9 764.9 L749.5 762.0 L750.3 757.3 L751.0 752.1 L751.7 746.5 L752.2 740.8 L752.8 735.2 L753.3 730.0 L753.7 725.8 L754.1 721.6 L754.4 717.6 L754.8 713.7 L755.1 709.8 L755.5 706.0 L755.9 702.7 L756.2 699.5 L756.6 696.4 L757.0 693.2 L757.4 690.1 L757.8 687.0 L758.3 683.8 L758.8 680.5 L759.3 677.2 L759.9 674.0 L760.4 670.9 L760.9 668.0 L761.3 665.9 L761.6 663.9 L762.0 662.0 L762.3 660.2 L762.7 658.4 L763.1 656.6 L763.4 655.0 L763.7 653.2 L764.0 651.5 L764.4 650.0 L764.8 648.9 L765.4 648.3 L765.8 648.2 L766.3 648.4 L766.8 648.7 L767.4 649.0 L767.9 649.4 L768.5 649.8 L769.2 650.3 L770.0 650.9 L770.8 651.5 L771.6 652.1 L772.3 652.6 L773.0 652.8 L773.4 652.8 L773.7 652.7 L774.0 652.6 L774.3 652.4 L774.6 652.2 L775.0 652.0 L775.9 651.2 L777.1 650.0 L778.3 648.7 L779.6 647.4 L780.8 646.5 L782.0 646.2 L783.2 646.6 L784.4 647.5 L785.6 648.8 L786.7 650.3 L787.7 652.0 L788.7 653.8 L789.9 656.6 L790.8 659.9 L791.6 663.6 L792.3 667.5 L793.0 671.5 L793.8 675.5 L794.9 680.7 L796.0 686.1 L797.1 691.8 L798.3 697.6 L799.4 703.3 L800.5 709.0 L801.6 714.7 L802.7 720.6 L803.8 726.6 L804.9 732.3 L806.0 737.7 L807.0 742.5 L807.7 745.5 L808.3 748.2 L808.9 750.8 L809.5 753.3 L810.2 755.7 L811.0 758.0 L811.8 759.9 L812.6 761.7 L813.5 763.3 L814.3 765.1 L815.2 766.9 L816.0 769.0 L817.1 772.5 L818.1 776.5 L819.0 780.8 L819.9 785.2 L820.8 789.6 L821.8 793.8 L822.7 797.7 L823.6 801.7 L824.4 805.6 L825.3 809.4 L826.4 813.1 L827.5 816.6 L828.6 819.4 L829.8 822.0 L831.1 824.4 L832.4 826.9 L833.7 829.3 L835.0 831.8 L836.2 834.4 L837.4 836.9 L838.6 839.5 L839.9 842.1 L841.2 844.6 L842.7 847.0 L844.4 849.5 L846.2 852.1 L848.1 854.6 L850.1 856.9 L852.1 858.8 L854.0 860.3 L855.3 860.9 L856.6 861.2 L857.9 861.3 L859.2 861.4 L860.4 861.6 L861.7 862.2 L863.4 863.5 L865.1 865.1 L866.7 867.0 L868.4 869.1 L869.9 871.3 L871.3 873.6 L872.8 876.5 L874.2 879.7 L875.4 883.1 L876.6 886.7 L877.8 890.2 L879.1 893.7 L880.6 897.5 L882.1 901.3 L883.6 905.2 L885.1 909.1 L886.7 912.8 L888.3 916.5 L889.8 919.7 L891.3 922.9 L892.8 926.0 L894.3 929.0 L895.8 931.9 L897.4 934.8 L898.8 937.4 L900.2 940.1 L901.5 942.7 L903.0 945.2 L904.6 947.5 L906.5 949.4 L908.5 950.9 L910.7 952.2 L913.0 953.3 L915.4 954.2 L917.8 955.0 L920.2 955.8 L922.5 956.5 L924.9 957.3 L927.3 957.9 L929.7 958.4 L931.9 958.6 L933.9 958.5 L935.3 958.0 L936.6 957.2 L937.8 956.3 L939.0 955.4 L940.1 954.9 L941.2 954.8 L942.4 955.5 L943.5 956.9 L944.5 958.7 L945.5 960.6 L946.5 962.5 L947.6 964.0 L948.6 965.1 L949.6 966.2 L950.6 967.2 L951.6 968.2 L952.7 968.9 L954.0 969.4 L955.7 969.5 L957.6 969.2 L959.6 968.6 L961.6 968.0 L963.7 967.6 L965.8 967.6 L968.4 968.5 L971.1 970.1 L973.8 972.0 L976.5 973.8 L979.0 975.2 L981.3 975.8 L982.6 975.6 L983.9 975.0 L985.0 974.2 L986.1 973.4 L987.3 972.7 L988.6 972.2 L990.4 972.1 L992.3 972.2 L994.3 972.4 L996.3 972.8 L998.2 973.0 L1000.0 973.1 L1001.3 973.1 L1002.6 973.1 L1003.8 973.1 L1004.9 973.0 L1006.1 972.7 L1007.3 972.2 L1009.0 970.8 L1010.6 968.6 L1012.3 966.1 L1013.9 963.7 L1015.6 961.9 L1017.3 961.2 L1019.0 961.8 L1020.7 963.6 L1022.4 965.8 L1024.1 968.1 L1025.8 969.8 L1027.4 970.4 L1028.8 969.6 L1030.2 967.7 L1031.5 965.3 L1032.8 962.9 L1034.2 961.1 L1035.6 960.3 L1037.2 961.0 L1038.8 962.8 L1040.4 965.2 L1042.1 967.7 L1043.8 969.9 L1045.6 971.3 L1047.1 971.8 L1048.6 972.2 L1050.1 972.3 L1051.7 972.2 L1053.2 971.8 L1054.8 971.3 L1057.1 969.9 L1059.4 967.7 L1061.7 965.0 L1064.0 962.2 L1066.2 959.7 L1068.4 957.6 L1070.0 956.4 L1071.5 955.4 L1073.0 954.5 L1074.6 953.7 L1076.1 952.9 L1077.6 952.1 L1079.1 951.3 L1080.7 950.7 L1082.2 950.0 L1083.8 949.3 L1085.3 948.5 L1086.7 947.5 L1088.3 946.0 L1089.9 944.4 L1091.4 942.5 L1092.9 940.5 L1094.3 938.6 L1095.8 936.6 L1097.4 934.6 L1098.9 932.5 L1100.5 930.3 L1102.0 928.2 L1103.5 926.0 L1105.0 923.8 L1106.5 921.5 L1108.1 919.2 L1109.7 916.9 L1111.2 914.5 L1112.6 912.2 L1113.8 910.0 L1114.6 908.2 L1115.4 906.5 L1116.0 904.9 L1116.6 903.2 L1117.2 901.4 L1117.9 899.5 L1118.9 896.8 L1119.9 893.8 L1121.0 890.7 L1122.1 887.5 L1123.2 884.4 L1124.3 881.3 L1125.5 878.2 L1126.8 875.2 L1128.1 872.2 L1129.3 869.1 L1130.5 866.1 L1131.6 863.0 L1132.5 860.0 L1133.3 857.0 L1134.0 853.9 L1134.7 850.9 L1135.4 847.8 L1136.2 844.8 L1137.1 841.8 L1138.0 838.8 L1139.0 835.9 L1139.9 832.9 L1140.8 829.8 L1141.6 826.5 L1142.4 822.3 L1143.2 817.6 L1143.9 812.9 L1144.5 808.2 L1145.1 803.8 L1145.6 799.9 L1145.9 797.7 L1146.1 795.7 L1146.3 793.9 L1146.5 792.0 L1146.8 790.0 L1147.2 787.7 L1148.1 783.2 L1149.2 778.1 L1150.4 772.6 L1151.8 766.9 L1153.2 761.2 L1154.5 755.7 L1155.8 750.5 L1157.1 745.5 L1158.5 740.4 L1159.9 735.2 L1161.3 729.7 L1162.7 723.8 L1164.8 714.3 L1167.1 703.7 L1169.4 692.4 L1171.7 681.2 L1173.7 670.6 L1175.5 661.2 L1176.5 655.5 L1177.3 650.3 L1178.1 645.3 L1178.8 640.5 L1179.6 635.7 L1180.4 630.8 L1181.4 625.7 L1182.4 620.7 L1183.5 615.6 L1184.5 610.5 L1185.5 605.5 L1186.5 600.4 L1187.4 595.4 L1188.2 590.5 L1189.1 585.6 L1189.8 580.6 L1190.6 575.4 L1191.4 570.0 L1192.3 563.1 L1193.1 556.0 L1193.9 548.6 L1194.8 541.0 L1195.6 533.5 L1196.6 526.0 L1197.7 518.4 L1198.9 510.9 L1200.1 503.2 L1201.4 495.6 L1202.7 488.0 L1203.9 480.4 L1205.1 472.8 L1206.4 465.2 L1207.7 457.6 L1208.9 450.0 L1210.1 442.4 L1211.2 434.8 L1212.2 427.2 L1213.3 419.3 L1214.2 411.5 L1215.1 403.9 L1216.0 396.7 L1216.8 390.0 L1217.3 385.5 L1217.8 381.3 L1218.3 377.2 L1218.8 373.3 L1219.2 369.4 L1219.7 365.5 L1220.2 361.7 L1220.6 358.0 L1221.0 354.3 L1221.5 350.6 L1222.0 346.8 L1222.5 342.7 L1223.2 337.4 L1223.9 331.9 L1224.7 326.2 L1225.6 320.4 L1226.5 314.4 L1227.6 308.4 L1229.1 301.0 L1230.9 293.0 L1232.9 284.9 L1234.8 277.0 L1236.6 269.8 L1238.1 263.6 L1238.8 260.6 L1239.5 257.8 L1240.0 255.2 L1240.6 252.9 L1241.2 250.6 L1241.9 248.4 L1242.5 246.7 L1243.1 245.0 L1243.7 243.4 L1244.4 241.9 L1245.0 240.5 L1245.7 239.3 L1246.1 238.6 L1246.6 238.0 L1247.0 237.4 L1247.5 236.9 L1248.0 236.4 L1248.5 236.0 L1249.1 235.6 L1249.7 235.3 L1250.3 234.9 L1250.9 234.7 L1251.6 234.5 L1252.2 234.5 L1252.8 234.6 L1253.5 234.8 L1254.1 235.2 L1254.8 235.6 L1255.4 236.0 L1256.0 236.5 L1256.6 237.0 L1257.3 237.6 L1257.9 238.1 L1258.5 238.8 L1259.0 239.5 L1259.6 240.3 L1260.4 241.6 L1261.1 243.1 L1261.9 244.8 L1262.6 246.5 L1263.3 248.2 L1263.9 249.9 L1264.5 251.5 L1265.0 253.0 L1265.5 254.5 L1266.0 256.1 L1266.6 257.9 L1267.2 260.0 L1268.6 264.9 L1270.1 270.8 L1271.8 277.3 L1273.6 284.0 L1275.3 290.6 L1276.9 296.5 L1278.2 300.8 L1279.4 305.0 L1280.6 309.0 L1281.8 312.9 L1283.0 316.8 L1284.2 320.8 L1285.4 324.9 L1286.7 328.9 L1288.0 333.0 L1289.2 337.0 L1290.4 341.1 L1291.5 345.2 L1292.5 349.4 L1293.3 353.8 L1294.1 358.2 L1294.8 362.4 L1295.7 366.4 L1296.7 370.0 L1297.5 372.3 L1298.4 374.4 L1299.3 376.4 L1300.3 378.3 L1301.2 380.2 L1302.2 382.2 L1303.2 384.2 L1304.2 386.3 L1305.2 388.4 L1306.2 390.4 L1307.2 392.4 L1308.2 394.3 L1309.0 395.9 L1309.9 397.5 L1310.7 399.0 L1311.6 400.5 L1312.4 402.0 L1313.1 403.5 L1313.8 405.0 L1314.4 406.5 L1315.0 407.9 L1315.6 409.5 L1316.2 411.0 L1316.8 412.6 L1317.5 414.6 L1318.1 416.7 L1318.7 418.8 L1319.3 421.0 L1319.9 422.9 L1320.4 424.7 L1320.7 425.7 L1321.0 426.5 L1321.3 427.2 L1321.5 428.0 L1321.8 428.9 L1322.1 430.0 L1322.8 432.9 L1323.5 436.4 L1324.2 440.4 L1325.0 444.6 L1325.8 448.8 L1326.6 452.8 L1327.5 456.6 L1328.4 460.4 L1329.4 464.2 L1330.4 468.0 L1331.4 471.8 L1332.3 475.6 L1333.2 479.4 L1334.0 483.2 L1334.8 487.0 L1335.6 490.9 L1336.4 494.6 L1337.3 498.4 L1338.2 502.0 L1339.2 505.5 L1340.1 509.0 L1341.1 512.5 L1342.1 516.2 L1343.1 520.0 L1344.3 525.0 L1345.6 530.2 L1346.9 535.6 L1348.1 541.1 L1349.4 546.6 L1350.6 552.0 L1351.8 557.4 L1353.0 562.9 L1354.2 568.3 L1355.4 573.7 L1356.5 579.0 L1357.5 583.9 L1358.3 587.7 L1358.9 591.3 L1359.6 594.8 L1360.3 598.3 L1361.0 601.7 L1361.8 605.2 L1362.8 608.8 L1363.8 612.4 L1364.9 616.1 L1366.0 619.6 L1367.1 623.1 L1368.2 626.5 L1369.1 629.4 L1370.1 632.2 L1371.1 635.0 L1372.0 637.7 L1372.8 640.2 L1373.5 642.5 L1373.9 643.8 L1374.2 645.0 L1374.5 646.1 L1374.7 647.2 L1375.0 648.5 L1375.3 650.0 L1376.0 654.3 L1376.7 659.6 L1377.4 665.5 L1378.2 671.9 L1379.0 678.2 L1379.8 684.2 L1380.7 690.0 L1381.5 696.1 L1382.4 702.1 L1383.4 707.9 L1384.4 713.4 L1385.5 718.4 L1386.4 721.6 L1387.3 724.6 L1388.3 727.3 L1389.3 730.0 L1390.2 732.7 L1391.2 735.5 L1392.2 738.5 L1393.1 741.6 L1394.1 744.6 L1395.0 747.6 L1396.0 750.3 L1396.9 752.6 L1397.4 753.7 L1397.9 754.8 L1398.4 755.7 L1398.9 756.5 L1399.4 757.4 L1400.0 758.3 L1400.7 759.3 L1401.5 760.3 L1402.4 761.2 L1403.3 762.2 L1404.1 763.4 L1404.9 764.7 L1406.1 767.5 L1407.1 770.8 L1408.1 774.5 L1409.1 778.4 L1410.1 782.3 L1411.3 786.0 L1412.6 789.6 L1414.1 793.1 L1415.7 796.6 L1417.2 800.1 L1418.6 803.7 L1419.8 807.2 L1420.7 810.7 L1421.5 814.3 L1422.1 817.8 L1422.7 821.4 L1423.4 824.8 L1424.3 828.0 L1425.2 830.6 L1426.3 833.2 L1427.3 835.6 L1428.5 838.0 L1429.6 840.4 L1430.7 842.8 L1431.7 845.2 L1432.7 847.7 L1433.7 850.2 L1434.8 852.6 L1435.9 854.9 L1437.1 857.1 L1438.3 858.9 L1439.6 860.5 L1441.0 862.0 L1442.4 863.5 L1443.8 865.1 L1445.0 866.7 L1446.2 868.5 L1447.3 870.2 L1448.4 872.1 L1449.4 873.9 L1450.4 875.9 L1451.4 877.9 L1452.5 880.4 L1453.5 883.1 L1454.5 885.9 L1455.5 888.7 L1456.6 891.4 L1457.8 893.9 L1459.0 895.9 L1460.3 897.8 L1461.7 899.6 L1463.1 901.3 L1464.5 903.1 L1465.8 905.0 L1467.1 907.1 L1468.5 909.3 L1469.8 911.5 L1471.1 913.7 L1472.4 915.8 L1473.8 917.8 L1475.1 919.5 L1476.4 921.2 L1477.7 922.8 L1479.1 924.4 L1480.4 925.9 L1481.8 927.4 L1483.2 928.8 L1484.6 930.0 L1486.0 931.3 L1487.4 932.5 L1488.7 933.9 L1489.8 935.4 L1490.8 937.4 L1491.5 939.6 L1492.2 941.9 L1492.8 944.2 L1493.6 946.4 L1494.6 948.2 L1495.7 949.5 L1497.1 950.5 L1498.5 951.4 L1499.9 952.3 L1501.3 953.3 L1502.5 954.5 L1503.7 956.4 L1504.8 958.7 L1505.8 961.2 L1506.8 963.4 L1507.8 965.1 L1508.9 965.7 L1510.1 964.9 L1511.3 962.8 L1512.6 960.1 L1513.9 957.4 L1515.0 955.3 L1516.1 954.5 L1516.8 954.8 L1517.5 955.7 L1518.1 956.9 L1518.7 958.4 L1519.3 959.9 L1520.0 961.3 L1521.1 963.2 L1522.3 965.4 L1523.6 967.6 L1524.9 969.9 L1526.3 972.1 L1527.6 974.2 L1528.8 976.3 L1530.0 978.5 L1531.2 980.7 L1532.4 982.7 L1533.8 984.2 L1535.2 984.9 L1536.7 984.7 L1538.3 983.6 L1540.1 982.1 L1541.8 980.6 L1543.5 979.3 L1545.1 978.8 L1546.4 979.1 L1547.7 979.9 L1549.0 980.9 L1550.3 981.9 L1551.5 982.5 L1552.7 982.6 L1554.1 981.5 L1555.4 979.4 L1556.6 976.8 L1557.8 974.2 L1559.1 972.2 L1560.3 971.2 L1561.2 971.3 L1562.1 971.7 L1563.0 972.4 L1563.9 973.2 L1564.8 974.1 L1565.6 975.0 L1566.5 976.1 L1567.3 977.5 L1568.1 979.0 L1568.9 980.4 L1569.9 981.6 L1571.0 982.6 L1572.4 983.3 L1574.0 983.7 L1575.7 984.0 L1577.5 984.1 L1579.2 984.1 L1580.8 984.1 L1582.2 984.1 L1583.5 984.1 L1584.9 984.0 L1586.1 983.8 L1587.3 983.4 L1588.4 982.6 L1589.8 980.0 L1590.8 975.9 L1591.6 971.2 L1592.2 966.8 L1592.9 963.4 L1593.8 962.1 L1594.7 962.8 L1595.7 964.9 L1596.7 967.8 L1597.8 971.0 L1598.8 974.3 L1599.8 977.0 L1600.7 979.1 L1601.5 981.3 L1602.4 983.4 L1603.2 985.4 L1604.2 987.2 L1605.2 988.7 L1606.0 989.5 L1606.8 990.0 L1607.6 990.5 L1608.5 991.0 L1609.4 991.5 L1610.3 992.2 L1611.7 993.9 L1613.2 996.1 L1614.7 998.5 L1616.3 1000.7 L1618.0 1002.4 L1619.8 1003.1 L1621.9 1002.4 L1624.2 1000.3 L1626.6 997.6 L1629.0 994.9 L1631.3 992.9 L1633.5 992.2 L1635.5 993.3 L1637.4 995.7 L1639.2 998.8 L1641.0 1001.8 L1642.8 1004.2 L1644.5 1005.2 L1645.9 1004.7 L1647.2 1003.3 L1648.6 1001.4 L1649.9 999.6 L1651.3 998.1 L1652.7 997.6 L1654.5 998.5 L1656.3 1000.8 L1658.2 1003.7 L1660.1 1006.5 L1661.9 1008.6 L1663.7 1009.3 L1665.7 1007.7 L1667.6 1004.0 L1669.5 999.2 L1671.3 994.6 L1673.0 990.9 L1674.6 989.4 L1675.6 989.8 L1676.6 990.9 L1677.7 992.4 L1678.6 994.0 L1679.2 995.1 L1679.4 995.6" stroke="#808000"/>
</g>
<line x1="728.0" y1="269.1" x2="728.0" y2="313.7" stroke="#000" stroke-width="5.8" stroke-linecap="round"/><polygon points="726.0,342.4 730.0,342.4 736.6,312.7 736.0,314.0 720.0,314.0 719.4,312.7" fill="#000" stroke="#000" stroke-width="1.2" stroke-linejoin="round"/>
<line x1="782.0" y1="607.6" x2="782.0" y2="564.0" stroke="#000" stroke-width="5.8" stroke-linecap="round"/><polygon points="780.0,535.3 784.0,535.3 790.6,565.0 790.0,563.7 774.0,563.7 773.4,565.0" fill="#000" stroke="#000" stroke-width="1.2" stroke-linejoin="round"/>
<line x1="1176.0" y1="139.9" x2="1176.0" y2="184.0" stroke="#000" stroke-width="5.8" stroke-linecap="round"/><polygon points="1174.0,212.7 1178.0,212.7 1184.6,183.0 1184.0,184.3 1168.0,184.3 1167.4,183.0" fill="#000" stroke="#000" stroke-width="1.2" stroke-linejoin="round"/>
<line x1="1246.0" y1="103.8" x2="1246.0" y2="59.9" stroke="#000" stroke-width="5.8" stroke-linecap="round"/><polygon points="1244.0,31.2 1248.0,31.2 1254.6,60.9 1254.0,59.6 1238.0,59.6 1237.4,60.9" fill="#000" stroke="#000" stroke-width="1.2" stroke-linejoin="round"/>
<line x1="1252.0" y1="277.5" x2="1252.0" y2="321.2" stroke="#000" stroke-width="5.8" stroke-linecap="round"/><polygon points="1250.0,349.9 1254.0,349.9 1260.6,320.2 1260.0,321.5 1244.0,321.5 1243.4,320.2" fill="#000" stroke="#000" stroke-width="1.2" stroke-linejoin="round"/>
<g class="lbl">
<text transform="translate(303.4 1043.6) scale(0.9500 1)" text-anchor="end" font-size="82.0">0.00</text>
<text transform="translate(303.4 748.9) scale(0.9500 1)" text-anchor="end" font-size="82.0">0.02</text>
<text transform="translate(303.4 454.3) scale(0.9500 1)" text-anchor="end" font-size="82.0">0.04</text>
<text transform="translate(303.4 159.6) scale(0.9500 1)" text-anchor="end" font-size="82.0">0.06</text>
<text transform="translate(337.7 1173.6) scale(0.9620 1)" text-anchor="middle" font-size="82.0">2100</text>
<text transform="translate(720.8 1173.6) scale(0.9620 1)" text-anchor="middle" font-size="82.0">2000</text>
<text transform="translate(1104.0 1173.6) scale(0.9620 1)" text-anchor="middle" font-size="82.0">1900</text>
<text transform="translate(1487.1 1173.6) scale(0.9620 1)" text-anchor="middle" font-size="82.0">1800</text>
<text transform="translate(71.2,583.5) rotate(-90) scale(0.962,1)" text-anchor="middle" font-size="82">Absorbance</text>
<text transform="translate(884,1280) scale(1.075,1)" font-family="'Liberation Serif',serif" font-size="74">ν</text>
<text y="1280" font-size="82"><tspan x="942">/</tspan><tspan x="985.5">cm</tspan><tspan x="1093" y="1237" font-size="50">-1</tspan></text>
</g>
<g fill="#fff">
<rect x="298.5" y="1167.7" width="15.09" height="7"/><rect x="320.55" y="1167.7" width="14.5" height="7"/>
<rect x="1021" y="1167.7" width="15.1" height="7"/><rect x="1043.05" y="1167.7" width="14.5" height="7"/>
<rect x="1404.5" y="1167.7" width="14.85" height="7"/><rect x="1426.3" y="1167.7" width="14.5" height="7"/>
<rect x="1112.5" y="1232.6" width="9.85" height="5"/><rect x="1126.73" y="1232.6" width="9.5" height="5"/>
</g>
</svg>
</body></html>
